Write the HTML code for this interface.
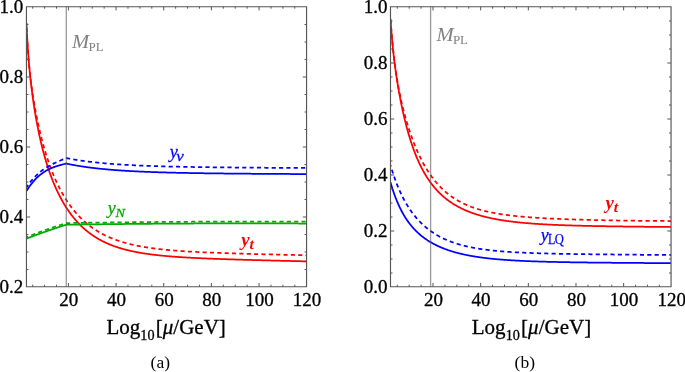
<!DOCTYPE html>
<html><head><meta charset="utf-8"><style>
html,body{margin:0;padding:0;background:#fff;}
body{width:685px;height:372px;overflow:hidden;}
svg{display:block;will-change:transform;}
text{font-family:"Liberation Serif",serif;}
.t{font-size:19px;fill:#000;stroke:#000;stroke-width:0.3px;}
.xl{font-size:21px;fill:#000;stroke:#000;stroke-width:0.3px;}
.cap{font-size:17.5px;fill:#000;}
.mpl{font-size:19px;fill:#808080;}
.lab{font-size:20px;}
</style></head><body>
<svg width="685" height="372" viewBox="0 0 685 372">
<defs>
<clipPath id="cA"><rect x="26.45" y="6.60" width="280.10" height="279.80"/></clipPath>
<clipPath id="cB"><rect x="390.50" y="6.60" width="280.55" height="279.80"/></clipPath>
</defs>
<rect width="685" height="372" fill="#fff"/>
<g fill="none" stroke-width="1.75" clip-path="url(#cA)">
<path d="M26.45 23.17 L26.85 31.58 L27.25 38.99 L27.65 45.60 L28.05 51.56 L28.45 56.97 L28.85 61.94 L29.25 66.54 L29.65 70.82 L30.05 74.84 L30.45 78.63 L30.85 82.23 L31.25 85.66 L31.65 88.94 L32.05 92.08 L32.45 95.11 L32.85 98.02 L33.25 100.84 L33.65 103.56 L34.05 106.20 L34.45 108.76 L34.85 111.25 L35.25 113.67 L35.65 116.02 L36.05 118.31 L36.45 120.55 L36.85 122.72 L37.25 124.85 L37.65 126.92 L38.05 128.94 L38.45 130.91 L38.85 132.84 L39.25 134.73 L39.65 136.58 L40.05 138.38 L40.45 140.15 L40.85 141.87 L41.25 143.57 L41.65 145.22 L42.05 146.85 L42.45 148.44 L42.85 149.99 L43.25 151.52 L43.65 153.02 L44.05 154.49 L44.45 155.93 L44.85 157.35 L45.25 158.74 L45.65 160.10 L46.05 161.44 L46.45 162.75 L46.85 164.04 L47.25 165.31 L47.65 166.56 L48.05 167.78 L48.45 168.99 L48.85 170.17 L49.25 171.33 L49.65 172.48 L50.05 173.60 L50.45 174.71 L50.85 175.80 L51.25 176.87 L51.65 177.93 L52.05 178.97 L52.45 179.99 L52.85 180.99 L53.25 181.98 L53.65 182.96 L54.05 183.92 L54.45 184.87 L54.85 185.80 L55.25 186.72 L55.65 187.62 L56.05 188.52 L56.45 189.39 L56.85 190.26 L57.25 191.11 L57.65 191.96 L58.05 192.78 L58.45 193.60 L58.85 194.41 L59.25 195.20 L59.65 195.99 L60.05 196.76 L60.45 197.52 L60.85 198.27 L61.25 199.01 L61.65 199.75 L62.05 200.47 L62.45 201.18 L62.85 201.88 L63.25 202.57 L63.65 203.26 L64.05 203.93 L64.45 204.59 L64.85 205.25 L65.25 205.90 L65.65 206.54 L66.05 207.17 L66.45 207.79 L66.85 208.40 L67.25 209.01 L67.65 209.61 L68.05 210.20 L68.45 210.78 L68.85 211.36 L69.25 211.93 L69.65 212.49 L70.05 213.04 L70.45 213.59 L70.85 214.13 L71.25 214.66 L71.65 215.19 L72.05 215.70 L72.45 216.22 L72.85 216.72 L73.25 217.22 L73.65 217.72 L74.05 218.20 L74.45 218.69 L74.85 219.16 L75.25 219.63 L75.65 220.09 L76.05 220.55 L76.45 221.00 L76.85 221.45 L77.25 221.89 L77.65 222.32 L78.05 222.75 L78.45 223.18 L78.85 223.60 L79.25 224.01 L79.65 224.42 L80.05 224.82 L80.45 225.22 L80.85 225.62 L81.25 226.01 L81.65 226.39 L82.05 226.77 L82.45 227.15 L82.85 227.52 L83.25 227.88 L83.65 228.24 L84.05 228.60 L84.45 228.95 L84.85 229.30 L85.25 229.65 L85.65 229.99 L86.05 230.32 L86.45 230.65 L86.85 230.98 L87.25 231.30 L87.65 231.62 L88.05 231.94 L88.45 232.25 L88.85 232.56 L89.25 232.87 L89.65 233.17 L90.05 233.46 L90.45 233.76 L90.85 234.05 L91.25 234.33 L91.65 234.62 L92.05 234.90 L92.45 235.17 L92.85 235.45 L93.25 235.72 L93.65 235.98 L94.05 236.25 L94.45 236.51 L94.85 236.76 L95.25 237.02 L95.65 237.27 L96.05 237.52 L96.45 237.76 L96.85 238.00 L97.25 238.24 L97.65 238.48 L98.05 238.71 L98.45 238.94 L98.85 239.17 L99.25 239.40 L99.65 239.62 L100.05 239.84 L100.45 240.06 L100.85 240.27 L101.25 240.48 L101.65 240.69 L102.05 240.90 L102.45 241.10 L102.85 241.31 L103.25 241.51 L103.65 241.70 L104.05 241.90 L104.45 242.09 L104.85 242.28 L105.25 242.47 L105.65 242.66 L106.05 242.84 L106.45 243.02 L106.85 243.20 L107.25 243.38 L107.65 243.56 L108.05 243.73 L108.45 243.90 L108.85 244.07 L109.25 244.24 L109.65 244.40 L110.05 244.57 L110.45 244.73 L110.85 244.89 L111.25 245.04 L111.65 245.20 L112.05 245.35 L112.45 245.51 L112.85 245.66 L113.25 245.81 L113.65 245.95 L114.05 246.10 L114.45 246.24 L114.85 246.38 L115.25 246.53 L115.65 246.66 L116.05 246.80 L116.45 246.94 L116.85 247.07 L117.25 247.20 L117.65 247.33 L118.05 247.46 L118.45 247.59 L118.85 247.72 L119.25 247.84 L119.65 247.97 L120.05 248.09 L120.45 248.21 L120.85 248.33 L121.25 248.45 L121.65 248.56 L122.05 248.68 L122.45 248.79 L122.85 248.91 L123.25 249.02 L123.65 249.13 L124.05 249.24 L124.45 249.35 L124.85 249.45 L125.25 249.56 L125.65 249.66 L126.05 249.76 L126.45 249.87 L126.85 249.97 L127.25 250.07 L127.65 250.16 L128.05 250.26 L128.45 250.36 L128.85 250.45 L129.25 250.55 L129.65 250.64 L130.05 250.73 L130.45 250.82 L130.85 250.91 L131.25 251.00 L131.65 251.09 L132.05 251.18 L132.45 251.26 L132.85 251.35 L133.25 251.43 L133.65 251.52 L134.05 251.60 L134.45 251.68 L134.85 251.76 L135.25 251.84 L135.65 251.92 L136.05 252.00 L136.45 252.07 L136.85 252.15 L137.25 252.22 L137.65 252.30 L138.05 252.37 L138.45 252.45 L138.85 252.52 L139.25 252.59 L139.65 252.66 L140.05 252.73 L140.45 252.80 L140.85 252.87 L141.25 252.94 L141.65 253.00 L142.05 253.07 L142.45 253.13 L142.85 253.20 L143.25 253.26 L143.65 253.33 L144.05 253.39 L144.45 253.45 L144.85 253.51 L145.25 253.57 L145.65 253.63 L146.05 253.69 L146.45 253.75 L146.85 253.81 L147.25 253.87 L147.65 253.92 L148.05 253.98 L148.45 254.04 L148.85 254.09 L149.25 254.15 L149.65 254.20 L150.05 254.26 L150.45 254.31 L150.85 254.36 L151.25 254.41 L151.65 254.46 L152.05 254.52 L152.45 254.57 L152.85 254.62 L153.25 254.66 L153.65 254.71 L154.05 254.76 L154.45 254.81 L154.85 254.86 L155.25 254.90 L155.65 254.95 L156.05 255.00 L156.45 255.04 L156.85 255.09 L157.25 255.13 L157.65 255.18 L158.05 255.22 L158.45 255.26 L158.85 255.31 L159.25 255.35 L159.65 255.39 L160.05 255.43 L160.45 255.48 L160.85 255.52 L161.25 255.56 L161.65 255.60 L162.05 255.64 L162.45 255.68 L162.85 255.72 L163.25 255.75 L163.65 255.79 L164.05 255.83 L164.45 255.87 L164.85 255.91 L165.25 255.94 L165.65 255.98 L166.05 256.01 L166.45 256.05 L166.85 256.09 L167.25 256.12 L167.65 256.16 L168.05 256.19 L168.45 256.23 L168.85 256.26 L169.25 256.29 L169.65 256.33 L170.05 256.36 L170.45 256.39 L170.85 256.42 L171.25 256.46 L171.65 256.49 L172.05 256.52 L172.45 256.55 L172.85 256.58 L173.25 256.61 L173.65 256.64 L174.05 256.67 L174.45 256.70 L174.85 256.73 L175.25 256.76 L175.65 256.79 L176.05 256.82 L176.45 256.85 L176.85 256.88 L177.25 256.91 L177.65 256.94 L178.05 256.96 L178.45 256.99 L178.85 257.02 L179.25 257.05 L179.65 257.07 L180.05 257.10 L180.45 257.13 L180.85 257.15 L181.25 257.18 L181.65 257.20 L182.05 257.23 L182.45 257.25 L182.85 257.28 L183.25 257.30 L183.65 257.33 L184.05 257.35 L184.45 257.38 L184.85 257.40 L185.25 257.43 L185.65 257.45 L186.05 257.47 L186.45 257.50 L186.85 257.52 L187.25 257.54 L187.65 257.57 L188.05 257.59 L188.45 257.61 L188.85 257.64 L189.25 257.66 L189.65 257.68 L190.05 257.70 L190.45 257.72 L190.85 257.75 L191.25 257.77 L191.65 257.79 L192.05 257.81 L192.45 257.83 L192.85 257.85 L193.25 257.87 L193.65 257.89 L194.05 257.91 L194.45 257.93 L194.85 257.95 L195.25 257.97 L195.65 257.99 L196.05 258.01 L196.45 258.03 L196.85 258.05 L197.25 258.07 L197.65 258.09 L198.05 258.11 L198.45 258.13 L198.85 258.15 L199.25 258.17 L199.65 258.19 L200.05 258.21 L200.45 258.22 L200.85 258.24 L201.25 258.26 L201.65 258.28 L202.05 258.30 L202.45 258.31 L202.85 258.33 L203.25 258.35 L203.65 258.37 L204.05 258.39 L204.45 258.40 L204.85 258.42 L205.25 258.44 L205.65 258.45 L206.05 258.47 L206.45 258.49 L206.85 258.51 L207.25 258.52 L207.65 258.54 L208.05 258.56 L208.45 258.57 L208.85 258.59 L209.25 258.60 L209.65 258.62 L210.05 258.64 L210.45 258.65 L210.85 258.67 L211.25 258.68 L211.65 258.70 L212.05 258.72 L212.45 258.73 L212.85 258.75 L213.25 258.76 L213.65 258.78 L214.05 258.79 L214.45 258.81 L214.85 258.82 L215.25 258.84 L215.65 258.85 L216.05 258.87 L216.45 258.88 L216.85 258.90 L217.25 258.91 L217.65 258.93 L218.05 258.94 L218.45 258.96 L218.85 258.97 L219.25 258.98 L219.65 259.00 L220.05 259.01 L220.45 259.03 L220.85 259.04 L221.25 259.06 L221.65 259.07 L222.05 259.08 L222.45 259.10 L222.85 259.11 L223.25 259.13 L223.65 259.14 L224.05 259.15 L224.45 259.17 L224.85 259.18 L225.25 259.19 L225.65 259.21 L226.05 259.22 L226.45 259.23 L226.85 259.25 L227.25 259.26 L227.65 259.27 L228.05 259.29 L228.45 259.30 L228.85 259.31 L229.25 259.33 L229.65 259.34 L230.05 259.35 L230.45 259.36 L230.85 259.38 L231.25 259.39 L231.65 259.40 L232.05 259.42 L232.45 259.43 L232.85 259.44 L233.25 259.45 L233.65 259.47 L234.05 259.48 L234.45 259.49 L234.85 259.50 L235.25 259.52 L235.65 259.53 L236.05 259.54 L236.45 259.55 L236.85 259.56 L237.25 259.58 L237.65 259.59 L238.05 259.60 L238.45 259.61 L238.85 259.62 L239.25 259.64 L239.65 259.65 L240.05 259.66 L240.45 259.67 L240.85 259.68 L241.25 259.70 L241.65 259.71 L242.05 259.72 L242.45 259.73 L242.85 259.74 L243.25 259.75 L243.65 259.77 L244.05 259.78 L244.45 259.79 L244.85 259.80 L245.25 259.81 L245.65 259.82 L246.05 259.84 L246.45 259.85 L246.85 259.86 L247.25 259.87 L247.65 259.88 L248.05 259.89 L248.45 259.90 L248.85 259.91 L249.25 259.93 L249.65 259.94 L250.05 259.95 L250.45 259.96 L250.85 259.97 L251.25 259.98 L251.65 259.99 L252.05 260.00 L252.45 260.02 L252.85 260.03 L253.25 260.04 L253.65 260.05 L254.05 260.06 L254.45 260.07 L254.85 260.08 L255.25 260.09 L255.65 260.10 L256.05 260.11 L256.45 260.12 L256.85 260.14 L257.25 260.15 L257.65 260.16 L258.05 260.17 L258.45 260.18 L258.85 260.19 L259.25 260.20 L259.65 260.21 L260.05 260.22 L260.45 260.23 L260.85 260.24 L261.25 260.25 L261.65 260.26 L262.05 260.27 L262.45 260.28 L262.85 260.30 L263.25 260.31 L263.65 260.32 L264.05 260.33 L264.45 260.34 L264.85 260.35 L265.25 260.36 L265.65 260.37 L266.05 260.38 L266.45 260.39 L266.85 260.40 L267.25 260.41 L267.65 260.42 L268.05 260.43 L268.45 260.44 L268.85 260.45 L269.25 260.46 L269.65 260.47 L270.05 260.48 L270.45 260.49 L270.85 260.50 L271.25 260.51 L271.65 260.52 L272.05 260.53 L272.45 260.54 L272.85 260.55 L273.25 260.56 L273.65 260.57 L274.05 260.58 L274.45 260.59 L274.85 260.60 L275.25 260.61 L275.65 260.63 L276.05 260.64 L276.45 260.65 L276.85 260.66 L277.25 260.67 L277.65 260.68 L278.05 260.69 L278.45 260.70 L278.85 260.71 L279.25 260.72 L279.65 260.73 L280.05 260.74 L280.45 260.75 L280.85 260.76 L281.25 260.77 L281.65 260.78 L282.05 260.79 L282.45 260.80 L282.85 260.81 L283.25 260.82 L283.65 260.83 L284.05 260.83 L284.45 260.84 L284.85 260.85 L285.25 260.86 L285.65 260.87 L286.05 260.88 L286.45 260.89 L286.85 260.90 L287.25 260.91 L287.65 260.92 L288.05 260.93 L288.45 260.94 L288.85 260.95 L289.25 260.96 L289.65 260.97 L290.05 260.98 L290.45 260.99 L290.85 261.00 L291.25 261.01 L291.65 261.02 L292.05 261.03 L292.45 261.04 L292.85 261.05 L293.25 261.06 L293.65 261.07 L294.05 261.08 L294.45 261.09 L294.85 261.10 L295.25 261.11 L295.65 261.12 L296.05 261.13 L296.45 261.14 L296.85 261.15 L297.25 261.16 L297.65 261.17 L298.05 261.18 L298.45 261.19 L298.85 261.20 L299.25 261.21 L299.65 261.22 L300.05 261.23 L300.45 261.23 L300.85 261.24 L301.25 261.25 L301.65 261.26 L302.05 261.27 L302.45 261.28 L302.85 261.29 L303.25 261.30 L303.65 261.31 L304.05 261.32 L304.45 261.33 L304.85 261.34 L305.25 261.35 L305.65 261.36 L306.05 261.37 L306.45 261.38 L306.55 261.38" stroke="#ff0000"/>
<path d="M26.45 22.92 L26.85 31.89 L27.25 39.62 L27.65 46.36 L28.05 52.29 L28.45 57.58 L28.85 62.36 L29.25 66.70 L29.65 70.70 L30.05 74.41 L30.45 77.88 L30.85 81.15 L31.25 84.25 L31.65 87.21 L32.05 90.03 L32.45 92.75 L32.85 95.37 L33.25 97.90 L33.65 100.35 L34.05 102.74 L34.45 105.05 L34.85 107.31 L35.25 109.50 L35.65 111.65 L36.05 113.74 L36.45 115.79 L36.85 117.79 L37.25 119.75 L37.65 121.66 L38.05 123.54 L38.45 125.38 L38.85 127.18 L39.25 128.94 L39.65 130.67 L40.05 132.37 L40.45 134.03 L40.85 135.66 L41.25 137.26 L41.65 138.84 L42.05 140.38 L42.45 141.90 L42.85 143.39 L43.25 144.85 L43.65 146.28 L44.05 147.69 L44.45 149.08 L44.85 150.45 L45.25 151.79 L45.65 153.10 L46.05 154.40 L46.45 155.67 L46.85 156.93 L47.25 158.16 L47.65 159.37 L48.05 160.57 L48.45 161.74 L48.85 162.90 L49.25 164.03 L49.65 165.15 L50.05 166.26 L50.45 167.34 L50.85 168.41 L51.25 169.46 L51.65 170.50 L52.05 171.52 L52.45 172.53 L52.85 173.52 L53.25 174.50 L53.65 175.46 L54.05 176.41 L54.45 177.34 L54.85 178.27 L55.25 179.18 L55.65 180.07 L56.05 180.95 L56.45 181.82 L56.85 182.68 L57.25 183.53 L57.65 184.36 L58.05 185.19 L58.45 186.00 L58.85 186.80 L59.25 187.59 L59.65 188.37 L60.05 189.14 L60.45 189.90 L60.85 190.65 L61.25 191.39 L61.65 192.11 L62.05 192.83 L62.45 193.54 L62.85 194.24 L63.25 194.93 L63.65 195.62 L64.05 196.29 L64.45 196.95 L64.85 197.61 L65.25 198.26 L65.65 198.90 L66.05 199.53 L66.45 200.15 L66.85 200.77 L67.25 201.37 L67.65 201.97 L68.05 202.57 L68.45 203.15 L68.85 203.73 L69.25 204.30 L69.65 204.86 L70.05 205.42 L70.45 205.97 L70.85 206.51 L71.25 207.04 L71.65 207.57 L72.05 208.10 L72.45 208.61 L72.85 209.12 L73.25 209.63 L73.65 210.12 L74.05 210.61 L74.45 211.10 L74.85 211.58 L75.25 212.05 L75.65 212.52 L76.05 212.98 L76.45 213.44 L76.85 213.89 L77.25 214.34 L77.65 214.78 L78.05 215.21 L78.45 215.64 L78.85 216.06 L79.25 216.48 L79.65 216.90 L80.05 217.31 L80.45 217.71 L80.85 218.11 L81.25 218.51 L81.65 218.90 L82.05 219.28 L82.45 219.66 L82.85 220.04 L83.25 220.41 L83.65 220.78 L84.05 221.14 L84.45 221.50 L84.85 221.86 L85.25 222.21 L85.65 222.56 L86.05 222.90 L86.45 223.24 L86.85 223.57 L87.25 223.90 L87.65 224.23 L88.05 224.55 L88.45 224.87 L88.85 225.19 L89.25 225.50 L89.65 225.81 L90.05 226.11 L90.45 226.41 L90.85 226.71 L91.25 227.00 L91.65 227.29 L92.05 227.58 L92.45 227.86 L92.85 228.14 L93.25 228.42 L93.65 228.70 L94.05 228.97 L94.45 229.23 L94.85 229.50 L95.25 229.76 L95.65 230.02 L96.05 230.27 L96.45 230.53 L96.85 230.78 L97.25 231.02 L97.65 231.27 L98.05 231.51 L98.45 231.75 L98.85 231.98 L99.25 232.22 L99.65 232.45 L100.05 232.67 L100.45 232.90 L100.85 233.12 L101.25 233.34 L101.65 233.56 L102.05 233.77 L102.45 233.99 L102.85 234.20 L103.25 234.40 L103.65 234.61 L104.05 234.81 L104.45 235.01 L104.85 235.21 L105.25 235.41 L105.65 235.60 L106.05 235.79 L106.45 235.98 L106.85 236.17 L107.25 236.36 L107.65 236.54 L108.05 236.72 L108.45 236.90 L108.85 237.08 L109.25 237.25 L109.65 237.42 L110.05 237.59 L110.45 237.76 L110.85 237.93 L111.25 238.10 L111.65 238.26 L112.05 238.42 L112.45 238.58 L112.85 238.74 L113.25 238.90 L113.65 239.05 L114.05 239.20 L114.45 239.35 L114.85 239.50 L115.25 239.65 L115.65 239.80 L116.05 239.94 L116.45 240.09 L116.85 240.23 L117.25 240.37 L117.65 240.50 L118.05 240.64 L118.45 240.78 L118.85 240.91 L119.25 241.04 L119.65 241.17 L120.05 241.30 L120.45 241.43 L120.85 241.56 L121.25 241.68 L121.65 241.80 L122.05 241.93 L122.45 242.05 L122.85 242.17 L123.25 242.28 L123.65 242.40 L124.05 242.52 L124.45 242.63 L124.85 242.74 L125.25 242.86 L125.65 242.97 L126.05 243.08 L126.45 243.19 L126.85 243.29 L127.25 243.40 L127.65 243.50 L128.05 243.61 L128.45 243.71 L128.85 243.81 L129.25 243.91 L129.65 244.01 L130.05 244.11 L130.45 244.20 L130.85 244.30 L131.25 244.40 L131.65 244.49 L132.05 244.58 L132.45 244.67 L132.85 244.77 L133.25 244.86 L133.65 244.94 L134.05 245.03 L134.45 245.12 L134.85 245.21 L135.25 245.29 L135.65 245.38 L136.05 245.46 L136.45 245.54 L136.85 245.62 L137.25 245.70 L137.65 245.78 L138.05 245.86 L138.45 245.94 L138.85 246.02 L139.25 246.10 L139.65 246.17 L140.05 246.25 L140.45 246.32 L140.85 246.39 L141.25 246.47 L141.65 246.54 L142.05 246.61 L142.45 246.68 L142.85 246.75 L143.25 246.82 L143.65 246.89 L144.05 246.95 L144.45 247.02 L144.85 247.09 L145.25 247.15 L145.65 247.22 L146.05 247.28 L146.45 247.35 L146.85 247.41 L147.25 247.47 L147.65 247.53 L148.05 247.59 L148.45 247.65 L148.85 247.71 L149.25 247.77 L149.65 247.83 L150.05 247.89 L150.45 247.95 L150.85 248.00 L151.25 248.06 L151.65 248.11 L152.05 248.17 L152.45 248.22 L152.85 248.28 L153.25 248.33 L153.65 248.38 L154.05 248.44 L154.45 248.49 L154.85 248.54 L155.25 248.59 L155.65 248.64 L156.05 248.69 L156.45 248.74 L156.85 248.79 L157.25 248.84 L157.65 248.88 L158.05 248.93 L158.45 248.98 L158.85 249.03 L159.25 249.07 L159.65 249.12 L160.05 249.16 L160.45 249.21 L160.85 249.25 L161.25 249.30 L161.65 249.34 L162.05 249.38 L162.45 249.42 L162.85 249.47 L163.25 249.51 L163.65 249.55 L164.05 249.59 L164.45 249.63 L164.85 249.67 L165.25 249.71 L165.65 249.75 L166.05 249.79 L166.45 249.83 L166.85 249.87 L167.25 249.91 L167.65 249.94 L168.05 249.98 L168.45 250.02 L168.85 250.05 L169.25 250.09 L169.65 250.13 L170.05 250.16 L170.45 250.20 L170.85 250.23 L171.25 250.27 L171.65 250.30 L172.05 250.34 L172.45 250.37 L172.85 250.40 L173.25 250.44 L173.65 250.47 L174.05 250.50 L174.45 250.53 L174.85 250.57 L175.25 250.60 L175.65 250.63 L176.05 250.66 L176.45 250.69 L176.85 250.72 L177.25 250.75 L177.65 250.78 L178.05 250.81 L178.45 250.84 L178.85 250.87 L179.25 250.90 L179.65 250.93 L180.05 250.96 L180.45 250.99 L180.85 251.02 L181.25 251.04 L181.65 251.07 L182.05 251.10 L182.45 251.13 L182.85 251.15 L183.25 251.18 L183.65 251.21 L184.05 251.23 L184.45 251.26 L184.85 251.29 L185.25 251.31 L185.65 251.34 L186.05 251.36 L186.45 251.39 L186.85 251.41 L187.25 251.44 L187.65 251.46 L188.05 251.49 L188.45 251.51 L188.85 251.53 L189.25 251.56 L189.65 251.58 L190.05 251.61 L190.45 251.63 L190.85 251.65 L191.25 251.67 L191.65 251.70 L192.05 251.72 L192.45 251.74 L192.85 251.76 L193.25 251.79 L193.65 251.81 L194.05 251.83 L194.45 251.85 L194.85 251.87 L195.25 251.89 L195.65 251.92 L196.05 251.94 L196.45 251.96 L196.85 251.98 L197.25 252.00 L197.65 252.02 L198.05 252.04 L198.45 252.06 L198.85 252.08 L199.25 252.10 L199.65 252.12 L200.05 252.14 L200.45 252.16 L200.85 252.18 L201.25 252.20 L201.65 252.22 L202.05 252.23 L202.45 252.25 L202.85 252.27 L203.25 252.29 L203.65 252.31 L204.05 252.33 L204.45 252.35 L204.85 252.36 L205.25 252.38 L205.65 252.40 L206.05 252.42 L206.45 252.44 L206.85 252.45 L207.25 252.47 L207.65 252.49 L208.05 252.50 L208.45 252.52 L208.85 252.54 L209.25 252.56 L209.65 252.57 L210.05 252.59 L210.45 252.61 L210.85 252.62 L211.25 252.64 L211.65 252.66 L212.05 252.67 L212.45 252.69 L212.85 252.70 L213.25 252.72 L213.65 252.74 L214.05 252.75 L214.45 252.77 L214.85 252.78 L215.25 252.80 L215.65 252.81 L216.05 252.83 L216.45 252.84 L216.85 252.86 L217.25 252.87 L217.65 252.89 L218.05 252.90 L218.45 252.92 L218.85 252.93 L219.25 252.95 L219.65 252.96 L220.05 252.98 L220.45 252.99 L220.85 253.01 L221.25 253.02 L221.65 253.04 L222.05 253.05 L222.45 253.06 L222.85 253.08 L223.25 253.09 L223.65 253.11 L224.05 253.12 L224.45 253.13 L224.85 253.15 L225.25 253.16 L225.65 253.17 L226.05 253.19 L226.45 253.20 L226.85 253.21 L227.25 253.23 L227.65 253.24 L228.05 253.25 L228.45 253.27 L228.85 253.28 L229.25 253.29 L229.65 253.31 L230.05 253.32 L230.45 253.33 L230.85 253.35 L231.25 253.36 L231.65 253.37 L232.05 253.38 L232.45 253.40 L232.85 253.41 L233.25 253.42 L233.65 253.43 L234.05 253.45 L234.45 253.46 L234.85 253.47 L235.25 253.48 L235.65 253.50 L236.05 253.51 L236.45 253.52 L236.85 253.53 L237.25 253.54 L237.65 253.56 L238.05 253.57 L238.45 253.58 L238.85 253.59 L239.25 253.60 L239.65 253.62 L240.05 253.63 L240.45 253.64 L240.85 253.65 L241.25 253.66 L241.65 253.68 L242.05 253.69 L242.45 253.70 L242.85 253.71 L243.25 253.72 L243.65 253.73 L244.05 253.74 L244.45 253.76 L244.85 253.77 L245.25 253.78 L245.65 253.79 L246.05 253.80 L246.45 253.81 L246.85 253.82 L247.25 253.83 L247.65 253.85 L248.05 253.86 L248.45 253.87 L248.85 253.88 L249.25 253.89 L249.65 253.90 L250.05 253.91 L250.45 253.92 L250.85 253.93 L251.25 253.94 L251.65 253.95 L252.05 253.97 L252.45 253.98 L252.85 253.99 L253.25 254.00 L253.65 254.01 L254.05 254.02 L254.45 254.03 L254.85 254.04 L255.25 254.05 L255.65 254.06 L256.05 254.07 L256.45 254.08 L256.85 254.09 L257.25 254.10 L257.65 254.11 L258.05 254.12 L258.45 254.13 L258.85 254.14 L259.25 254.15 L259.65 254.17 L260.05 254.18 L260.45 254.19 L260.85 254.20 L261.25 254.21 L261.65 254.22 L262.05 254.23 L262.45 254.24 L262.85 254.25 L263.25 254.26 L263.65 254.27 L264.05 254.28 L264.45 254.29 L264.85 254.30 L265.25 254.31 L265.65 254.32 L266.05 254.33 L266.45 254.34 L266.85 254.35 L267.25 254.36 L267.65 254.37 L268.05 254.38 L268.45 254.39 L268.85 254.40 L269.25 254.41 L269.65 254.42 L270.05 254.43 L270.45 254.44 L270.85 254.44 L271.25 254.45 L271.65 254.46 L272.05 254.47 L272.45 254.48 L272.85 254.49 L273.25 254.50 L273.65 254.51 L274.05 254.52 L274.45 254.53 L274.85 254.54 L275.25 254.55 L275.65 254.56 L276.05 254.57 L276.45 254.58 L276.85 254.59 L277.25 254.60 L277.65 254.61 L278.05 254.62 L278.45 254.63 L278.85 254.64 L279.25 254.65 L279.65 254.66 L280.05 254.66 L280.45 254.67 L280.85 254.68 L281.25 254.69 L281.65 254.70 L282.05 254.71 L282.45 254.72 L282.85 254.73 L283.25 254.74 L283.65 254.75 L284.05 254.76 L284.45 254.77 L284.85 254.78 L285.25 254.79 L285.65 254.80 L286.05 254.80 L286.45 254.81 L286.85 254.82 L287.25 254.83 L287.65 254.84 L288.05 254.85 L288.45 254.86 L288.85 254.87 L289.25 254.88 L289.65 254.89 L290.05 254.90 L290.45 254.91 L290.85 254.92 L291.25 254.92 L291.65 254.93 L292.05 254.94 L292.45 254.95 L292.85 254.96 L293.25 254.97 L293.65 254.98 L294.05 254.99 L294.45 255.00 L294.85 255.01 L295.25 255.02 L295.65 255.02 L296.05 255.03 L296.45 255.04 L296.85 255.05 L297.25 255.06 L297.65 255.07 L298.05 255.08 L298.45 255.09 L298.85 255.10 L299.25 255.11 L299.65 255.11 L300.05 255.12 L300.45 255.13 L300.85 255.14 L301.25 255.15 L301.65 255.16 L302.05 255.17 L302.45 255.18 L302.85 255.19 L303.25 255.19 L303.65 255.20 L304.05 255.21 L304.45 255.22 L304.85 255.23 L305.25 255.24 L305.65 255.25 L306.05 255.26 L306.45 255.27 L306.55 255.27" stroke="#ff0000" stroke-dasharray="4.14 3.22" stroke-dashoffset="2.47"/>
<path d="M26.45 191.09 L26.95 190.29 L27.45 189.51 L27.95 188.75 L28.45 188.00 L28.95 187.27 L29.45 186.56 L29.95 185.86 L30.45 185.18 L30.95 184.52 L31.45 183.87 L31.95 183.24 L32.45 182.62 L32.95 182.02 L33.45 181.43 L33.95 180.86 L34.45 180.30 L34.95 179.75 L35.45 179.22 L35.95 178.70 L36.45 178.20 L36.95 177.71 L37.45 177.23 L37.95 176.76 L38.45 176.31 L38.95 175.87 L39.45 175.44 L39.95 175.02 L40.45 174.62 L40.95 174.22 L41.45 173.84 L41.95 173.47 L42.45 173.10 L42.95 172.75 L43.45 172.41 L43.95 172.08 L44.45 171.75 L44.95 171.44 L45.45 171.14 L45.95 170.84 L46.45 170.55 L46.95 170.27 L47.45 170.00 L47.95 169.74 L48.45 169.49 L48.95 169.24 L49.45 169.00 L49.95 168.77 L50.45 168.54 L50.95 168.32 L51.45 168.11 L51.95 167.90 L52.45 167.70 L52.95 167.50 L53.45 167.31 L53.95 167.12 L54.45 166.94 L54.95 166.77 L55.45 166.60 L55.95 166.43 L56.45 166.26 L56.95 166.10 L57.45 165.95 L57.95 165.79 L58.45 165.64 L58.95 165.49 L59.45 165.35 L59.95 165.21 L60.45 165.07 L60.95 164.93 L61.45 164.79 L61.95 164.65 L62.45 164.52 L62.95 164.38 L63.45 164.25 L63.95 164.12 L64.45 163.98 L64.95 163.85 L65.45 163.72 L65.95 163.58 L66.30 163.49 L66.80 163.70 L67.30 163.80 L67.80 163.91 L68.30 164.01 L68.80 164.11 L69.30 164.21 L69.80 164.31 L70.30 164.41 L70.80 164.51 L71.30 164.60 L71.80 164.70 L72.30 164.79 L72.80 164.89 L73.30 164.98 L73.80 165.07 L74.30 165.16 L74.80 165.25 L75.30 165.34 L75.80 165.42 L76.30 165.51 L76.80 165.60 L77.30 165.68 L77.80 165.77 L78.30 165.85 L78.80 165.93 L79.30 166.01 L79.80 166.09 L80.30 166.17 L80.80 166.25 L81.30 166.33 L81.80 166.41 L82.30 166.48 L82.80 166.56 L83.30 166.63 L83.80 166.71 L84.30 166.78 L84.80 166.85 L85.30 166.92 L85.80 166.99 L86.30 167.06 L86.80 167.13 L87.30 167.20 L87.80 167.27 L88.30 167.34 L88.80 167.40 L89.30 167.47 L89.80 167.53 L90.30 167.60 L90.80 167.66 L91.30 167.72 L91.80 167.79 L92.30 167.85 L92.80 167.91 L93.30 167.97 L93.80 168.03 L94.30 168.09 L94.80 168.15 L95.30 168.20 L95.80 168.26 L96.30 168.32 L96.80 168.37 L97.30 168.43 L97.80 168.48 L98.30 168.54 L98.80 168.59 L99.30 168.64 L99.80 168.70 L100.30 168.75 L100.80 168.80 L101.30 168.85 L101.80 168.90 L102.30 168.95 L102.80 169.00 L103.30 169.05 L103.80 169.10 L104.30 169.15 L104.80 169.19 L105.30 169.24 L105.80 169.29 L106.30 169.33 L106.80 169.38 L107.30 169.42 L107.80 169.47 L108.30 169.51 L108.80 169.56 L109.30 169.60 L109.80 169.64 L110.30 169.68 L110.80 169.73 L111.30 169.77 L111.80 169.81 L112.30 169.85 L112.80 169.89 L113.30 169.93 L113.80 169.97 L114.30 170.01 L114.80 170.05 L115.30 170.08 L115.80 170.12 L116.30 170.16 L116.80 170.20 L117.30 170.23 L117.80 170.27 L118.30 170.30 L118.80 170.34 L119.30 170.37 L119.80 170.41 L120.30 170.44 L120.80 170.48 L121.30 170.51 L121.80 170.54 L122.30 170.58 L122.80 170.61 L123.30 170.64 L123.80 170.67 L124.30 170.71 L124.80 170.74 L125.30 170.77 L125.80 170.80 L126.30 170.83 L126.80 170.86 L127.30 170.89 L127.80 170.92 L128.30 170.95 L128.80 170.98 L129.30 171.01 L129.80 171.03 L130.30 171.06 L130.80 171.09 L131.30 171.12 L131.80 171.14 L132.30 171.17 L132.80 171.20 L133.30 171.22 L133.80 171.25 L134.30 171.28 L134.80 171.30 L135.30 171.33 L135.80 171.35 L136.30 171.38 L136.80 171.40 L137.30 171.43 L137.80 171.45 L138.30 171.47 L138.80 171.50 L139.30 171.52 L139.80 171.54 L140.30 171.57 L140.80 171.59 L141.30 171.61 L141.80 171.63 L142.30 171.66 L142.80 171.68 L143.30 171.70 L143.80 171.72 L144.30 171.74 L144.80 171.76 L145.30 171.78 L145.80 171.80 L146.30 171.82 L146.80 171.84 L147.30 171.86 L147.80 171.88 L148.30 171.90 L148.80 171.92 L149.30 171.94 L149.80 171.96 L150.30 171.98 L150.80 172.00 L151.30 172.02 L151.80 172.03 L152.30 172.05 L152.80 172.07 L153.30 172.09 L153.80 172.11 L154.30 172.12 L154.80 172.14 L155.30 172.16 L155.80 172.17 L156.30 172.19 L156.80 172.21 L157.30 172.22 L157.80 172.24 L158.30 172.26 L158.80 172.27 L159.30 172.29 L159.80 172.30 L160.30 172.32 L160.80 172.34 L161.30 172.35 L161.80 172.37 L162.30 172.38 L162.80 172.40 L163.30 172.41 L163.80 172.42 L164.30 172.44 L164.80 172.45 L165.30 172.47 L165.80 172.48 L166.30 172.49 L166.80 172.51 L167.30 172.52 L167.80 172.54 L168.30 172.55 L168.80 172.56 L169.30 172.58 L169.80 172.59 L170.30 172.60 L170.80 172.61 L171.30 172.63 L171.80 172.64 L172.30 172.65 L172.80 172.66 L173.30 172.68 L173.80 172.69 L174.30 172.70 L174.80 172.71 L175.30 172.72 L175.80 172.73 L176.30 172.75 L176.80 172.76 L177.30 172.77 L177.80 172.78 L178.30 172.79 L178.80 172.80 L179.30 172.81 L179.80 172.82 L180.30 172.84 L180.80 172.85 L181.30 172.86 L181.80 172.87 L182.30 172.88 L182.80 172.89 L183.30 172.90 L183.80 172.91 L184.30 172.92 L184.80 172.93 L185.30 172.94 L185.80 172.95 L186.30 172.96 L186.80 172.97 L187.30 172.98 L187.80 172.99 L188.30 172.99 L188.80 173.00 L189.30 173.01 L189.80 173.02 L190.30 173.03 L190.80 173.04 L191.30 173.05 L191.80 173.06 L192.30 173.07 L192.80 173.07 L193.30 173.08 L193.80 173.09 L194.30 173.10 L194.80 173.11 L195.30 173.12 L195.80 173.13 L196.30 173.13 L196.80 173.14 L197.30 173.15 L197.80 173.16 L198.30 173.17 L198.80 173.17 L199.30 173.18 L199.80 173.19 L200.30 173.20 L200.80 173.20 L201.30 173.21 L201.80 173.22 L202.30 173.23 L202.80 173.23 L203.30 173.24 L203.80 173.25 L204.30 173.26 L204.80 173.26 L205.30 173.27 L205.80 173.28 L206.30 173.28 L206.80 173.29 L207.30 173.30 L207.80 173.30 L208.30 173.31 L208.80 173.32 L209.30 173.32 L209.80 173.33 L210.30 173.34 L210.80 173.34 L211.30 173.35 L211.80 173.36 L212.30 173.36 L212.80 173.37 L213.30 173.38 L213.80 173.38 L214.30 173.39 L214.80 173.39 L215.30 173.40 L215.80 173.41 L216.30 173.41 L216.80 173.42 L217.30 173.42 L217.80 173.43 L218.30 173.44 L218.80 173.44 L219.30 173.45 L219.80 173.45 L220.30 173.46 L220.80 173.46 L221.30 173.47 L221.80 173.47 L222.30 173.48 L222.80 173.49 L223.30 173.49 L223.80 173.50 L224.30 173.50 L224.80 173.51 L225.30 173.51 L225.80 173.52 L226.30 173.52 L226.80 173.53 L227.30 173.53 L227.80 173.54 L228.30 173.54 L228.80 173.55 L229.30 173.55 L229.80 173.56 L230.30 173.56 L230.80 173.57 L231.30 173.57 L231.80 173.58 L232.30 173.58 L232.80 173.59 L233.30 173.59 L233.80 173.60 L234.30 173.60 L234.80 173.61 L235.30 173.61 L235.80 173.62 L236.30 173.62 L236.80 173.62 L237.30 173.63 L237.80 173.63 L238.30 173.64 L238.80 173.64 L239.30 173.65 L239.80 173.65 L240.30 173.66 L240.80 173.66 L241.30 173.66 L241.80 173.67 L242.30 173.67 L242.80 173.68 L243.30 173.68 L243.80 173.69 L244.30 173.69 L244.80 173.69 L245.30 173.70 L245.80 173.70 L246.30 173.71 L246.80 173.71 L247.30 173.71 L247.80 173.72 L248.30 173.72 L248.80 173.73 L249.30 173.73 L249.80 173.73 L250.30 173.74 L250.80 173.74 L251.30 173.75 L251.80 173.75 L252.30 173.75 L252.80 173.76 L253.30 173.76 L253.80 173.76 L254.30 173.77 L254.80 173.77 L255.30 173.78 L255.80 173.78 L256.30 173.78 L256.80 173.79 L257.30 173.79 L257.80 173.79 L258.30 173.80 L258.80 173.80 L259.30 173.80 L259.80 173.81 L260.30 173.81 L260.80 173.81 L261.30 173.82 L261.80 173.82 L262.30 173.83 L262.80 173.83 L263.30 173.83 L263.80 173.84 L264.30 173.84 L264.80 173.84 L265.30 173.85 L265.80 173.85 L266.30 173.85 L266.80 173.86 L267.30 173.86 L267.80 173.86 L268.30 173.87 L268.80 173.87 L269.30 173.87 L269.80 173.88 L270.30 173.88 L270.80 173.88 L271.30 173.88 L271.80 173.89 L272.30 173.89 L272.80 173.89 L273.30 173.90 L273.80 173.90 L274.30 173.90 L274.80 173.91 L275.30 173.91 L275.80 173.91 L276.30 173.92 L276.80 173.92 L277.30 173.92 L277.80 173.93 L278.30 173.93 L278.80 173.93 L279.30 173.93 L279.80 173.94 L280.30 173.94 L280.80 173.94 L281.30 173.95 L281.80 173.95 L282.30 173.95 L282.80 173.96 L283.30 173.96 L283.80 173.96 L284.30 173.96 L284.80 173.97 L285.30 173.97 L285.80 173.97 L286.30 173.98 L286.80 173.98 L287.30 173.98 L287.80 173.98 L288.30 173.99 L288.80 173.99 L289.30 173.99 L289.80 174.00 L290.30 174.00 L290.80 174.00 L291.30 174.00 L291.80 174.01 L292.30 174.01 L292.80 174.01 L293.30 174.01 L293.80 174.02 L294.30 174.02 L294.80 174.02 L295.30 174.03 L295.80 174.03 L296.30 174.03 L296.80 174.03 L297.30 174.04 L297.80 174.04 L298.30 174.04 L298.80 174.04 L299.30 174.05 L299.80 174.05 L300.30 174.05 L300.80 174.05 L301.30 174.06 L301.80 174.06 L302.30 174.06 L302.80 174.07 L303.30 174.07 L303.80 174.07 L304.30 174.07 L304.80 174.08 L305.30 174.08 L305.80 174.08 L306.30 174.08 L306.55 174.08" stroke="#0000ff"/>
<path d="M26.45 187.39 L26.95 186.65 L27.45 185.93 L27.95 185.22 L28.45 184.53 L28.95 183.85 L29.45 183.19 L29.95 182.54 L30.45 181.90 L30.95 181.28 L31.45 180.67 L31.95 180.07 L32.45 179.49 L32.95 178.92 L33.45 178.36 L33.95 177.81 L34.45 177.28 L34.95 176.76 L35.45 176.25 L35.95 175.75 L36.45 175.26 L36.95 174.78 L37.45 174.31 L37.95 173.85 L38.45 173.41 L38.95 172.97 L39.45 172.54 L39.95 172.12 L40.45 171.72 L40.95 171.32 L41.45 170.92 L41.95 170.54 L42.45 170.17 L42.95 169.80 L43.45 169.45 L43.95 169.10 L44.45 168.75 L44.95 168.42 L45.45 168.09 L45.95 167.77 L46.45 167.46 L46.95 167.15 L47.45 166.85 L47.95 166.55 L48.45 166.26 L48.95 165.98 L49.45 165.70 L49.95 165.42 L50.45 165.16 L50.95 164.89 L51.45 164.63 L51.95 164.38 L52.45 164.13 L52.95 163.88 L53.45 163.63 L53.95 163.39 L54.45 163.16 L54.95 162.92 L55.45 162.69 L55.95 162.46 L56.45 162.23 L56.95 162.01 L57.45 161.79 L57.95 161.57 L58.45 161.35 L58.95 161.13 L59.45 160.91 L59.95 160.69 L60.45 160.48 L60.95 160.26 L61.45 160.04 L61.95 159.83 L62.45 159.61 L62.95 159.39 L63.45 159.18 L63.95 158.96 L64.45 158.74 L64.95 158.52 L65.45 158.29 L65.95 158.07 L66.30 157.91 L66.80 158.19 L67.30 158.29 L67.80 158.39 L68.30 158.48 L68.80 158.58 L69.30 158.67 L69.80 158.76 L70.30 158.85 L70.80 158.94 L71.30 159.03 L71.80 159.12 L72.30 159.21 L72.80 159.30 L73.30 159.38 L73.80 159.47 L74.30 159.55 L74.80 159.63 L75.30 159.71 L75.80 159.80 L76.30 159.88 L76.80 159.96 L77.30 160.03 L77.80 160.11 L78.30 160.19 L78.80 160.27 L79.30 160.34 L79.80 160.42 L80.30 160.49 L80.80 160.56 L81.30 160.64 L81.80 160.71 L82.30 160.78 L82.80 160.85 L83.30 160.92 L83.80 160.99 L84.30 161.05 L84.80 161.12 L85.30 161.19 L85.80 161.25 L86.30 161.32 L86.80 161.38 L87.30 161.45 L87.80 161.51 L88.30 161.57 L88.80 161.64 L89.30 161.70 L89.80 161.76 L90.30 161.82 L90.80 161.88 L91.30 161.94 L91.80 161.99 L92.30 162.05 L92.80 162.11 L93.30 162.17 L93.80 162.22 L94.30 162.28 L94.80 162.33 L95.30 162.39 L95.80 162.44 L96.30 162.49 L96.80 162.54 L97.30 162.60 L97.80 162.65 L98.30 162.70 L98.80 162.75 L99.30 162.80 L99.80 162.85 L100.30 162.90 L100.80 162.95 L101.30 162.99 L101.80 163.04 L102.30 163.09 L102.80 163.13 L103.30 163.18 L103.80 163.23 L104.30 163.27 L104.80 163.31 L105.30 163.36 L105.80 163.40 L106.30 163.45 L106.80 163.49 L107.30 163.53 L107.80 163.57 L108.30 163.61 L108.80 163.65 L109.30 163.70 L109.80 163.74 L110.30 163.78 L110.80 163.81 L111.30 163.85 L111.80 163.89 L112.30 163.93 L112.80 163.97 L113.30 164.01 L113.80 164.04 L114.30 164.08 L114.80 164.12 L115.30 164.15 L115.80 164.19 L116.30 164.22 L116.80 164.26 L117.30 164.29 L117.80 164.33 L118.30 164.36 L118.80 164.39 L119.30 164.43 L119.80 164.46 L120.30 164.49 L120.80 164.52 L121.30 164.56 L121.80 164.59 L122.30 164.62 L122.80 164.65 L123.30 164.68 L123.80 164.71 L124.30 164.74 L124.80 164.77 L125.30 164.80 L125.80 164.83 L126.30 164.86 L126.80 164.88 L127.30 164.91 L127.80 164.94 L128.30 164.97 L128.80 165.00 L129.30 165.02 L129.80 165.05 L130.30 165.08 L130.80 165.10 L131.30 165.13 L131.80 165.15 L132.30 165.18 L132.80 165.20 L133.30 165.23 L133.80 165.25 L134.30 165.28 L134.80 165.30 L135.30 165.33 L135.80 165.35 L136.30 165.37 L136.80 165.40 L137.30 165.42 L137.80 165.44 L138.30 165.47 L138.80 165.49 L139.30 165.51 L139.80 165.53 L140.30 165.56 L140.80 165.58 L141.30 165.60 L141.80 165.62 L142.30 165.64 L142.80 165.66 L143.30 165.68 L143.80 165.70 L144.30 165.72 L144.80 165.74 L145.30 165.76 L145.80 165.78 L146.30 165.80 L146.80 165.82 L147.30 165.84 L147.80 165.86 L148.30 165.88 L148.80 165.90 L149.30 165.91 L149.80 165.93 L150.30 165.95 L150.80 165.97 L151.30 165.98 L151.80 166.00 L152.30 166.02 L152.80 166.04 L153.30 166.05 L153.80 166.07 L154.30 166.09 L154.80 166.10 L155.30 166.12 L155.80 166.14 L156.30 166.15 L156.80 166.17 L157.30 166.18 L157.80 166.20 L158.30 166.21 L158.80 166.23 L159.30 166.25 L159.80 166.26 L160.30 166.27 L160.80 166.29 L161.30 166.30 L161.80 166.32 L162.30 166.33 L162.80 166.35 L163.30 166.36 L163.80 166.37 L164.30 166.39 L164.80 166.40 L165.30 166.42 L165.80 166.43 L166.30 166.44 L166.80 166.46 L167.30 166.47 L167.80 166.48 L168.30 166.49 L168.80 166.51 L169.30 166.52 L169.80 166.53 L170.30 166.54 L170.80 166.56 L171.30 166.57 L171.80 166.58 L172.30 166.59 L172.80 166.60 L173.30 166.62 L173.80 166.63 L174.30 166.64 L174.80 166.65 L175.30 166.66 L175.80 166.67 L176.30 166.68 L176.80 166.70 L177.30 166.71 L177.80 166.72 L178.30 166.73 L178.80 166.74 L179.30 166.75 L179.80 166.76 L180.30 166.77 L180.80 166.78 L181.30 166.79 L181.80 166.80 L182.30 166.81 L182.80 166.82 L183.30 166.83 L183.80 166.84 L184.30 166.85 L184.80 166.86 L185.30 166.87 L185.80 166.88 L186.30 166.89 L186.80 166.90 L187.30 166.91 L187.80 166.91 L188.30 166.92 L188.80 166.93 L189.30 166.94 L189.80 166.95 L190.30 166.96 L190.80 166.97 L191.30 166.98 L191.80 166.98 L192.30 166.99 L192.80 167.00 L193.30 167.01 L193.80 167.02 L194.30 167.03 L194.80 167.03 L195.30 167.04 L195.80 167.05 L196.30 167.06 L196.80 167.07 L197.30 167.07 L197.80 167.08 L198.30 167.09 L198.80 167.10 L199.30 167.10 L199.80 167.11 L200.30 167.12 L200.80 167.13 L201.30 167.13 L201.80 167.14 L202.30 167.15 L202.80 167.15 L203.30 167.16 L203.80 167.17 L204.30 167.18 L204.80 167.18 L205.30 167.19 L205.80 167.20 L206.30 167.20 L206.80 167.21 L207.30 167.22 L207.80 167.22 L208.30 167.23 L208.80 167.24 L209.30 167.24 L209.80 167.25 L210.30 167.25 L210.80 167.26 L211.30 167.27 L211.80 167.27 L212.30 167.28 L212.80 167.29 L213.30 167.29 L213.80 167.30 L214.30 167.30 L214.80 167.31 L215.30 167.31 L215.80 167.32 L216.30 167.33 L216.80 167.33 L217.30 167.34 L217.80 167.34 L218.30 167.35 L218.80 167.35 L219.30 167.36 L219.80 167.37 L220.30 167.37 L220.80 167.38 L221.30 167.38 L221.80 167.39 L222.30 167.39 L222.80 167.40 L223.30 167.40 L223.80 167.41 L224.30 167.41 L224.80 167.42 L225.30 167.42 L225.80 167.43 L226.30 167.43 L226.80 167.44 L227.30 167.44 L227.80 167.45 L228.30 167.45 L228.80 167.46 L229.30 167.46 L229.80 167.47 L230.30 167.47 L230.80 167.48 L231.30 167.48 L231.80 167.49 L232.30 167.49 L232.80 167.50 L233.30 167.50 L233.80 167.51 L234.30 167.51 L234.80 167.51 L235.30 167.52 L235.80 167.52 L236.30 167.53 L236.80 167.53 L237.30 167.54 L237.80 167.54 L238.30 167.55 L238.80 167.55 L239.30 167.55 L239.80 167.56 L240.30 167.56 L240.80 167.57 L241.30 167.57 L241.80 167.58 L242.30 167.58 L242.80 167.58 L243.30 167.59 L243.80 167.59 L244.30 167.60 L244.80 167.60 L245.30 167.60 L245.80 167.61 L246.30 167.61 L246.80 167.62 L247.30 167.62 L247.80 167.62 L248.30 167.63 L248.80 167.63 L249.30 167.63 L249.80 167.64 L250.30 167.64 L250.80 167.65 L251.30 167.65 L251.80 167.65 L252.30 167.66 L252.80 167.66 L253.30 167.66 L253.80 167.67 L254.30 167.67 L254.80 167.67 L255.30 167.68 L255.80 167.68 L256.30 167.69 L256.80 167.69 L257.30 167.69 L257.80 167.70 L258.30 167.70 L258.80 167.70 L259.30 167.71 L259.80 167.71 L260.30 167.71 L260.80 167.72 L261.30 167.72 L261.80 167.72 L262.30 167.73 L262.80 167.73 L263.30 167.73 L263.80 167.74 L264.30 167.74 L264.80 167.74 L265.30 167.75 L265.80 167.75 L266.30 167.75 L266.80 167.76 L267.30 167.76 L267.80 167.76 L268.30 167.77 L268.80 167.77 L269.30 167.77 L269.80 167.78 L270.30 167.78 L270.80 167.78 L271.30 167.78 L271.80 167.79 L272.30 167.79 L272.80 167.79 L273.30 167.80 L273.80 167.80 L274.30 167.80 L274.80 167.81 L275.30 167.81 L275.80 167.81 L276.30 167.81 L276.80 167.82 L277.30 167.82 L277.80 167.82 L278.30 167.83 L278.80 167.83 L279.30 167.83 L279.80 167.83 L280.30 167.84 L280.80 167.84 L281.30 167.84 L281.80 167.85 L282.30 167.85 L282.80 167.85 L283.30 167.85 L283.80 167.86 L284.30 167.86 L284.80 167.86 L285.30 167.87 L285.80 167.87 L286.30 167.87 L286.80 167.87 L287.30 167.88 L287.80 167.88 L288.30 167.88 L288.80 167.89 L289.30 167.89 L289.80 167.89 L290.30 167.89 L290.80 167.90 L291.30 167.90 L291.80 167.90 L292.30 167.90 L292.80 167.91 L293.30 167.91 L293.80 167.91 L294.30 167.91 L294.80 167.92 L295.30 167.92 L295.80 167.92 L296.30 167.92 L296.80 167.93 L297.30 167.93 L297.80 167.93 L298.30 167.94 L298.80 167.94 L299.30 167.94 L299.80 167.94 L300.30 167.95 L300.80 167.95 L301.30 167.95 L301.80 167.95 L302.30 167.96 L302.80 167.96 L303.30 167.96 L303.80 167.96 L304.30 167.97 L304.80 167.97 L305.30 167.97 L305.80 167.97 L306.30 167.98 L306.55 167.98" stroke="#0000ff" stroke-dasharray="4.14 3.22" stroke-dashoffset="1.20"/>
<path d="M26.45 238.70 L26.95 238.50 L27.45 238.31 L27.95 238.12 L28.45 237.93 L28.95 237.73 L29.45 237.54 L29.95 237.35 L30.45 237.16 L30.95 236.97 L31.45 236.78 L31.95 236.59 L32.45 236.40 L32.95 236.22 L33.45 236.03 L33.95 235.84 L34.45 235.65 L34.95 235.47 L35.45 235.28 L35.95 235.10 L36.45 234.91 L36.95 234.73 L37.45 234.54 L37.95 234.36 L38.45 234.18 L38.95 234.00 L39.45 233.81 L39.95 233.63 L40.45 233.45 L40.95 233.27 L41.45 233.09 L41.95 232.91 L42.45 232.73 L42.95 232.55 L43.45 232.37 L43.95 232.20 L44.45 232.02 L44.95 231.84 L45.45 231.67 L45.95 231.49 L46.45 231.31 L46.95 231.14 L47.45 230.97 L47.95 230.79 L48.45 230.62 L48.95 230.44 L49.45 230.27 L49.95 230.10 L50.45 229.93 L50.95 229.76 L51.45 229.59 L51.95 229.42 L52.45 229.25 L52.95 229.08 L53.45 228.91 L53.95 228.74 L54.45 228.57 L54.95 228.40 L55.45 228.24 L55.95 228.07 L56.45 227.90 L56.95 227.74 L57.45 227.57 L57.95 227.41 L58.45 227.25 L58.95 227.08 L59.45 226.92 L59.95 226.76 L60.45 226.59 L60.95 226.43 L61.45 226.27 L61.95 226.11 L62.45 225.95 L62.95 225.79 L63.45 225.63 L63.95 225.47 L64.45 225.31 L64.95 225.15 L65.45 225.00 L65.95 224.84 L66.30 224.73 L66.80 224.72 L67.30 224.71 L67.80 224.70 L68.30 224.70 L68.80 224.69 L69.30 224.68 L69.80 224.67 L70.30 224.67 L70.80 224.66 L71.30 224.65 L71.80 224.64 L72.30 224.64 L72.80 224.63 L73.30 224.62 L73.80 224.62 L74.30 224.61 L74.80 224.60 L75.30 224.59 L75.80 224.59 L76.30 224.58 L76.80 224.57 L77.30 224.57 L77.80 224.56 L78.30 224.55 L78.80 224.55 L79.30 224.54 L79.80 224.53 L80.30 224.52 L80.80 224.52 L81.30 224.51 L81.80 224.50 L82.30 224.50 L82.80 224.49 L83.30 224.48 L83.80 224.48 L84.30 224.47 L84.80 224.46 L85.30 224.46 L85.80 224.45 L86.30 224.44 L86.80 224.44 L87.30 224.43 L87.80 224.42 L88.30 224.42 L88.80 224.41 L89.30 224.40 L89.80 224.40 L90.30 224.39 L90.80 224.38 L91.30 224.38 L91.80 224.37 L92.30 224.36 L92.80 224.36 L93.30 224.35 L93.80 224.35 L94.30 224.34 L94.80 224.33 L95.30 224.33 L95.80 224.32 L96.30 224.31 L96.80 224.31 L97.30 224.30 L97.80 224.30 L98.30 224.29 L98.80 224.28 L99.30 224.28 L99.80 224.27 L100.30 224.26 L100.80 224.26 L101.30 224.25 L101.80 224.25 L102.30 224.24 L102.80 224.23 L103.30 224.23 L103.80 224.22 L104.30 224.22 L104.80 224.21 L105.30 224.20 L105.80 224.20 L106.30 224.19 L106.80 224.19 L107.30 224.18 L107.80 224.18 L108.30 224.17 L108.80 224.16 L109.30 224.16 L109.80 224.15 L110.30 224.15 L110.80 224.14 L111.30 224.14 L111.80 224.13 L112.30 224.12 L112.80 224.12 L113.30 224.11 L113.80 224.11 L114.30 224.10 L114.80 224.10 L115.30 224.09 L115.80 224.09 L116.30 224.08 L116.80 224.08 L117.30 224.07 L117.80 224.06 L118.30 224.06 L118.80 224.05 L119.30 224.05 L119.80 224.04 L120.30 224.04 L120.80 224.03 L121.30 224.03 L121.80 224.02 L122.30 224.02 L122.80 224.01 L123.30 224.01 L123.80 224.00 L124.30 224.00 L124.80 223.99 L125.30 223.99 L125.80 223.98 L126.30 223.98 L126.80 223.97 L127.30 223.97 L127.80 223.96 L128.30 223.96 L128.80 223.95 L129.30 223.95 L129.80 223.94 L130.30 223.94 L130.80 223.93 L131.30 223.93 L131.80 223.92 L132.30 223.92 L132.80 223.91 L133.30 223.91 L133.80 223.90 L134.30 223.90 L134.80 223.90 L135.30 223.89 L135.80 223.89 L136.30 223.88 L136.80 223.88 L137.30 223.87 L137.80 223.87 L138.30 223.86 L138.80 223.86 L139.30 223.85 L139.80 223.85 L140.30 223.85 L140.80 223.84 L141.30 223.84 L141.80 223.83 L142.30 223.83 L142.80 223.82 L143.30 223.82 L143.80 223.82 L144.30 223.81 L144.80 223.81 L145.30 223.80 L145.80 223.80 L146.30 223.79 L146.80 223.79 L147.30 223.79 L147.80 223.78 L148.30 223.78 L148.80 223.77 L149.30 223.77 L149.80 223.77 L150.30 223.76 L150.80 223.76 L151.30 223.75 L151.80 223.75 L152.30 223.75 L152.80 223.74 L153.30 223.74 L153.80 223.73 L154.30 223.73 L154.80 223.73 L155.30 223.72 L155.80 223.72 L156.30 223.72 L156.80 223.71 L157.30 223.71 L157.80 223.70 L158.30 223.70 L158.80 223.70 L159.30 223.69 L159.80 223.69 L160.30 223.69 L160.80 223.68 L161.30 223.68 L161.80 223.68 L162.30 223.67 L162.80 223.67 L163.30 223.66 L163.80 223.66 L164.30 223.66 L164.80 223.65 L165.30 223.65 L165.80 223.65 L166.30 223.64 L166.80 223.64 L167.30 223.64 L167.80 223.63 L168.30 223.63 L168.80 223.63 L169.30 223.63 L169.80 223.62 L170.30 223.62 L170.80 223.62 L171.30 223.61 L171.80 223.61 L172.30 223.61 L172.80 223.60 L173.30 223.60 L173.80 223.60 L174.30 223.59 L174.80 223.59 L175.30 223.59 L175.80 223.59 L176.30 223.58 L176.80 223.58 L177.30 223.58 L177.80 223.57 L178.30 223.57 L178.80 223.57 L179.30 223.57 L179.80 223.56 L180.30 223.56 L180.80 223.56 L181.30 223.55 L181.80 223.55 L182.30 223.55 L182.80 223.55 L183.30 223.54 L183.80 223.54 L184.30 223.54 L184.80 223.54 L185.30 223.53 L185.80 223.53 L186.30 223.53 L186.80 223.53 L187.30 223.52 L187.80 223.52 L188.30 223.52 L188.80 223.52 L189.30 223.51 L189.80 223.51 L190.30 223.51 L190.80 223.51 L191.30 223.50 L191.80 223.50 L192.30 223.50 L192.80 223.50 L193.30 223.50 L193.80 223.49 L194.30 223.49 L194.80 223.49 L195.30 223.49 L195.80 223.49 L196.30 223.48 L196.80 223.48 L197.30 223.48 L197.80 223.48 L198.30 223.48 L198.80 223.47 L199.30 223.47 L199.80 223.47 L200.30 223.47 L200.80 223.47 L201.30 223.46 L201.80 223.46 L202.30 223.46 L202.80 223.46 L203.30 223.46 L203.80 223.45 L204.30 223.45 L204.80 223.45 L205.30 223.45 L205.80 223.45 L206.30 223.45 L206.80 223.44 L207.30 223.44 L207.80 223.44 L208.30 223.44 L208.80 223.44 L209.30 223.44 L209.80 223.44 L210.30 223.43 L210.80 223.43 L211.30 223.43 L211.80 223.43 L212.30 223.43 L212.80 223.43 L213.30 223.43 L213.80 223.42 L214.30 223.42 L214.80 223.42 L215.30 223.42 L215.80 223.42 L216.30 223.42 L216.80 223.42 L217.30 223.41 L217.80 223.41 L218.30 223.41 L218.80 223.41 L219.30 223.41 L219.80 223.41 L220.30 223.41 L220.80 223.41 L221.30 223.41 L221.80 223.41 L222.30 223.40 L222.80 223.40 L223.30 223.40 L223.80 223.40 L224.30 223.40 L224.80 223.40 L225.30 223.40 L225.80 223.40 L226.30 223.40 L226.80 223.40 L227.30 223.40 L227.80 223.39 L228.30 223.39 L228.80 223.39 L229.30 223.39 L229.80 223.39 L230.30 223.39 L230.80 223.39 L231.30 223.39 L231.80 223.39 L232.30 223.39 L232.80 223.39 L233.30 223.39 L233.80 223.39 L234.30 223.39 L234.80 223.39 L235.30 223.39 L235.80 223.39 L236.30 223.38 L236.80 223.38 L237.30 223.38 L237.80 223.38 L238.30 223.38 L238.80 223.38 L239.30 223.38 L239.80 223.38 L240.30 223.38 L240.80 223.38 L241.30 223.38 L241.80 223.38 L242.30 223.38 L242.80 223.38 L243.30 223.38 L243.80 223.38 L244.30 223.38 L244.80 223.38 L245.30 223.38 L245.80 223.38 L246.30 223.38 L246.80 223.38 L247.30 223.38 L247.80 223.38 L248.30 223.38 L248.80 223.38 L249.30 223.38 L249.80 223.38 L250.30 223.38 L250.80 223.38 L251.30 223.38 L251.80 223.38 L252.30 223.38 L252.80 223.38 L253.30 223.38 L253.80 223.38 L254.30 223.38 L254.80 223.38 L255.30 223.39 L255.80 223.39 L256.30 223.39 L256.80 223.39 L257.30 223.39 L257.80 223.39 L258.30 223.39 L258.80 223.39 L259.30 223.39 L259.80 223.39 L260.30 223.39 L260.80 223.39 L261.30 223.39 L261.80 223.39 L262.30 223.39 L262.80 223.39 L263.30 223.39 L263.80 223.40 L264.30 223.40 L264.80 223.40 L265.30 223.40 L265.80 223.40 L266.30 223.40 L266.80 223.40 L267.30 223.40 L267.80 223.40 L268.30 223.40 L268.80 223.40 L269.30 223.40 L269.80 223.41 L270.30 223.41 L270.80 223.41 L271.30 223.41 L271.80 223.41 L272.30 223.41 L272.80 223.41 L273.30 223.41 L273.80 223.41 L274.30 223.42 L274.80 223.42 L275.30 223.42 L275.80 223.42 L276.30 223.42 L276.80 223.42 L277.30 223.42 L277.80 223.42 L278.30 223.43 L278.80 223.43 L279.30 223.43 L279.80 223.43 L280.30 223.43 L280.80 223.43 L281.30 223.43 L281.80 223.44 L282.30 223.44 L282.80 223.44 L283.30 223.44 L283.80 223.44 L284.30 223.44 L284.80 223.45 L285.30 223.45 L285.80 223.45 L286.30 223.45 L286.80 223.45 L287.30 223.45 L287.80 223.46 L288.30 223.46 L288.80 223.46 L289.30 223.46 L289.80 223.46 L290.30 223.46 L290.80 223.47 L291.30 223.47 L291.80 223.47 L292.30 223.47 L292.80 223.47 L293.30 223.48 L293.80 223.48 L294.30 223.48 L294.80 223.48 L295.30 223.48 L295.80 223.49 L296.30 223.49 L296.80 223.49 L297.30 223.49 L297.80 223.49 L298.30 223.50 L298.80 223.50 L299.30 223.50 L299.80 223.50 L300.30 223.51 L300.80 223.51 L301.30 223.51 L301.80 223.51 L302.30 223.52 L302.80 223.52 L303.30 223.52 L303.80 223.52 L304.30 223.53 L304.80 223.53 L305.30 223.53 L305.80 223.53 L306.30 223.53 L306.55 223.54" stroke="#00aa00"/>
<path d="M26.45 237.26 L26.95 237.06 L27.45 236.85 L27.95 236.65 L28.45 236.45 L28.95 236.25 L29.45 236.05 L29.95 235.85 L30.45 235.65 L30.95 235.45 L31.45 235.25 L31.95 235.05 L32.45 234.86 L32.95 234.66 L33.45 234.47 L33.95 234.27 L34.45 234.08 L34.95 233.89 L35.45 233.69 L35.95 233.50 L36.45 233.31 L36.95 233.12 L37.45 232.93 L37.95 232.74 L38.45 232.55 L38.95 232.37 L39.45 232.18 L39.95 231.99 L40.45 231.81 L40.95 231.62 L41.45 231.44 L41.95 231.26 L42.45 231.07 L42.95 230.89 L43.45 230.71 L43.95 230.53 L44.45 230.35 L44.95 230.17 L45.45 229.99 L45.95 229.81 L46.45 229.64 L46.95 229.46 L47.45 229.29 L47.95 229.11 L48.45 228.94 L48.95 228.76 L49.45 228.59 L49.95 228.42 L50.45 228.25 L50.95 228.07 L51.45 227.90 L51.95 227.74 L52.45 227.57 L52.95 227.40 L53.45 227.23 L53.95 227.06 L54.45 226.90 L54.95 226.73 L55.45 226.57 L55.95 226.41 L56.45 226.24 L56.95 226.08 L57.45 225.92 L57.95 225.76 L58.45 225.60 L58.95 225.44 L59.45 225.28 L59.95 225.12 L60.45 224.96 L60.95 224.81 L61.45 224.65 L61.95 224.49 L62.45 224.34 L62.95 224.18 L63.45 224.03 L63.95 223.88 L64.45 223.73 L64.95 223.58 L65.45 223.42 L65.95 223.27 L66.30 223.17 L66.80 223.07 L67.30 223.06 L67.80 223.05 L68.30 223.04 L68.80 223.03 L69.30 223.03 L69.80 223.02 L70.30 223.01 L70.80 223.00 L71.30 223.00 L71.80 222.99 L72.30 222.98 L72.80 222.97 L73.30 222.97 L73.80 222.96 L74.30 222.95 L74.80 222.94 L75.30 222.94 L75.80 222.93 L76.30 222.92 L76.80 222.91 L77.30 222.91 L77.80 222.90 L78.30 222.89 L78.80 222.89 L79.30 222.88 L79.80 222.87 L80.30 222.86 L80.80 222.86 L81.30 222.85 L81.80 222.84 L82.30 222.83 L82.80 222.83 L83.30 222.82 L83.80 222.81 L84.30 222.81 L84.80 222.80 L85.30 222.79 L85.80 222.79 L86.30 222.78 L86.80 222.77 L87.30 222.76 L87.80 222.76 L88.30 222.75 L88.80 222.74 L89.30 222.74 L89.80 222.73 L90.30 222.72 L90.80 222.72 L91.30 222.71 L91.80 222.70 L92.30 222.70 L92.80 222.69 L93.30 222.68 L93.80 222.68 L94.30 222.67 L94.80 222.66 L95.30 222.66 L95.80 222.65 L96.30 222.64 L96.80 222.64 L97.30 222.63 L97.80 222.62 L98.30 222.62 L98.80 222.61 L99.30 222.60 L99.80 222.60 L100.30 222.59 L100.80 222.58 L101.30 222.58 L101.80 222.57 L102.30 222.57 L102.80 222.56 L103.30 222.55 L103.80 222.55 L104.30 222.54 L104.80 222.53 L105.30 222.53 L105.80 222.52 L106.30 222.52 L106.80 222.51 L107.30 222.50 L107.80 222.50 L108.30 222.49 L108.80 222.48 L109.30 222.48 L109.80 222.47 L110.30 222.47 L110.80 222.46 L111.30 222.45 L111.80 222.45 L112.30 222.44 L112.80 222.44 L113.30 222.43 L113.80 222.42 L114.30 222.42 L114.80 222.41 L115.30 222.41 L115.80 222.40 L116.30 222.40 L116.80 222.39 L117.30 222.38 L117.80 222.38 L118.30 222.37 L118.80 222.37 L119.30 222.36 L119.80 222.36 L120.30 222.35 L120.80 222.34 L121.30 222.34 L121.80 222.33 L122.30 222.33 L122.80 222.32 L123.30 222.32 L123.80 222.31 L124.30 222.31 L124.80 222.30 L125.30 222.29 L125.80 222.29 L126.30 222.28 L126.80 222.28 L127.30 222.27 L127.80 222.27 L128.30 222.26 L128.80 222.26 L129.30 222.25 L129.80 222.25 L130.30 222.24 L130.80 222.24 L131.30 222.23 L131.80 222.23 L132.30 222.22 L132.80 222.22 L133.30 222.21 L133.80 222.21 L134.30 222.20 L134.80 222.20 L135.30 222.19 L135.80 222.19 L136.30 222.18 L136.80 222.18 L137.30 222.17 L137.80 222.17 L138.30 222.16 L138.80 222.16 L139.30 222.15 L139.80 222.15 L140.30 222.14 L140.80 222.14 L141.30 222.13 L141.80 222.13 L142.30 222.12 L142.80 222.12 L143.30 222.11 L143.80 222.11 L144.30 222.10 L144.80 222.10 L145.30 222.09 L145.80 222.09 L146.30 222.08 L146.80 222.08 L147.30 222.08 L147.80 222.07 L148.30 222.07 L148.80 222.06 L149.30 222.06 L149.80 222.05 L150.30 222.05 L150.80 222.04 L151.30 222.04 L151.80 222.03 L152.30 222.03 L152.80 222.03 L153.30 222.02 L153.80 222.02 L154.30 222.01 L154.80 222.01 L155.30 222.00 L155.80 222.00 L156.30 222.00 L156.80 221.99 L157.30 221.99 L157.80 221.98 L158.30 221.98 L158.80 221.98 L159.30 221.97 L159.80 221.97 L160.30 221.96 L160.80 221.96 L161.30 221.96 L161.80 221.95 L162.30 221.95 L162.80 221.94 L163.30 221.94 L163.80 221.94 L164.30 221.93 L164.80 221.93 L165.30 221.92 L165.80 221.92 L166.30 221.92 L166.80 221.91 L167.30 221.91 L167.80 221.90 L168.30 221.90 L168.80 221.90 L169.30 221.89 L169.80 221.89 L170.30 221.89 L170.80 221.88 L171.30 221.88 L171.80 221.88 L172.30 221.87 L172.80 221.87 L173.30 221.86 L173.80 221.86 L174.30 221.86 L174.80 221.85 L175.30 221.85 L175.80 221.85 L176.30 221.84 L176.80 221.84 L177.30 221.84 L177.80 221.83 L178.30 221.83 L178.80 221.83 L179.30 221.82 L179.80 221.82 L180.30 221.82 L180.80 221.81 L181.30 221.81 L181.80 221.81 L182.30 221.80 L182.80 221.80 L183.30 221.80 L183.80 221.80 L184.30 221.79 L184.80 221.79 L185.30 221.79 L185.80 221.78 L186.30 221.78 L186.80 221.78 L187.30 221.77 L187.80 221.77 L188.30 221.77 L188.80 221.76 L189.30 221.76 L189.80 221.76 L190.30 221.76 L190.80 221.75 L191.30 221.75 L191.80 221.75 L192.30 221.74 L192.80 221.74 L193.30 221.74 L193.80 221.74 L194.30 221.73 L194.80 221.73 L195.30 221.73 L195.80 221.73 L196.30 221.72 L196.80 221.72 L197.30 221.72 L197.80 221.72 L198.30 221.71 L198.80 221.71 L199.30 221.71 L199.80 221.71 L200.30 221.70 L200.80 221.70 L201.30 221.70 L201.80 221.70 L202.30 221.69 L202.80 221.69 L203.30 221.69 L203.80 221.69 L204.30 221.68 L204.80 221.68 L205.30 221.68 L205.80 221.68 L206.30 221.67 L206.80 221.67 L207.30 221.67 L207.80 221.67 L208.30 221.67 L208.80 221.66 L209.30 221.66 L209.80 221.66 L210.30 221.66 L210.80 221.66 L211.30 221.65 L211.80 221.65 L212.30 221.65 L212.80 221.65 L213.30 221.65 L213.80 221.64 L214.30 221.64 L214.80 221.64 L215.30 221.64 L215.80 221.64 L216.30 221.63 L216.80 221.63 L217.30 221.63 L217.80 221.63 L218.30 221.63 L218.80 221.63 L219.30 221.62 L219.80 221.62 L220.30 221.62 L220.80 221.62 L221.30 221.62 L221.80 221.62 L222.30 221.61 L222.80 221.61 L223.30 221.61 L223.80 221.61 L224.30 221.61 L224.80 221.61 L225.30 221.60 L225.80 221.60 L226.30 221.60 L226.80 221.60 L227.30 221.60 L227.80 221.60 L228.30 221.60 L228.80 221.59 L229.30 221.59 L229.80 221.59 L230.30 221.59 L230.80 221.59 L231.30 221.59 L231.80 221.59 L232.30 221.59 L232.80 221.58 L233.30 221.58 L233.80 221.58 L234.30 221.58 L234.80 221.58 L235.30 221.58 L235.80 221.58 L236.30 221.58 L236.80 221.58 L237.30 221.57 L237.80 221.57 L238.30 221.57 L238.80 221.57 L239.30 221.57 L239.80 221.57 L240.30 221.57 L240.80 221.57 L241.30 221.57 L241.80 221.57 L242.30 221.57 L242.80 221.57 L243.30 221.56 L243.80 221.56 L244.30 221.56 L244.80 221.56 L245.30 221.56 L245.80 221.56 L246.30 221.56 L246.80 221.56 L247.30 221.56 L247.80 221.56 L248.30 221.56 L248.80 221.56 L249.30 221.56 L249.80 221.56 L250.30 221.56 L250.80 221.56 L251.30 221.55 L251.80 221.55 L252.30 221.55 L252.80 221.55 L253.30 221.55 L253.80 221.55 L254.30 221.55 L254.80 221.55 L255.30 221.55 L255.80 221.55 L256.30 221.55 L256.80 221.55 L257.30 221.55 L257.80 221.55 L258.30 221.55 L258.80 221.55 L259.30 221.55 L259.80 221.55 L260.30 221.55 L260.80 221.55 L261.30 221.55 L261.80 221.55 L262.30 221.55 L262.80 221.55 L263.30 221.55 L263.80 221.55 L264.30 221.55 L264.80 221.55 L265.30 221.55 L265.80 221.55 L266.30 221.55 L266.80 221.55 L267.30 221.55 L267.80 221.55 L268.30 221.55 L268.80 221.55 L269.30 221.55 L269.80 221.55 L270.30 221.55 L270.80 221.55 L271.30 221.55 L271.80 221.55 L272.30 221.55 L272.80 221.55 L273.30 221.55 L273.80 221.55 L274.30 221.56 L274.80 221.56 L275.30 221.56 L275.80 221.56 L276.30 221.56 L276.80 221.56 L277.30 221.56 L277.80 221.56 L278.30 221.56 L278.80 221.56 L279.30 221.56 L279.80 221.56 L280.30 221.56 L280.80 221.56 L281.30 221.56 L281.80 221.56 L282.30 221.57 L282.80 221.57 L283.30 221.57 L283.80 221.57 L284.30 221.57 L284.80 221.57 L285.30 221.57 L285.80 221.57 L286.30 221.57 L286.80 221.57 L287.30 221.57 L287.80 221.57 L288.30 221.58 L288.80 221.58 L289.30 221.58 L289.80 221.58 L290.30 221.58 L290.80 221.58 L291.30 221.58 L291.80 221.58 L292.30 221.58 L292.80 221.59 L293.30 221.59 L293.80 221.59 L294.30 221.59 L294.80 221.59 L295.30 221.59 L295.80 221.59 L296.30 221.59 L296.80 221.60 L297.30 221.60 L297.80 221.60 L298.30 221.60 L298.80 221.60 L299.30 221.60 L299.80 221.60 L300.30 221.61 L300.80 221.61 L301.30 221.61 L301.80 221.61 L302.30 221.61 L302.80 221.61 L303.30 221.62 L303.80 221.62 L304.30 221.62 L304.80 221.62 L305.30 221.62 L305.80 221.62 L306.30 221.63 L306.55 221.63" stroke="#00aa00" stroke-dasharray="4.14 3.22" stroke-dashoffset="2.16"/>
</g>
<g fill="none" stroke-width="1.75" clip-path="url(#cB)">
<path d="M390.50 18.80 L390.90 24.83 L391.30 30.31 L391.70 35.33 L392.10 39.97 L392.50 44.28 L392.90 48.31 L393.30 52.10 L393.70 55.68 L394.10 59.08 L394.50 62.33 L394.90 65.43 L395.30 68.42 L395.70 71.29 L396.10 74.07 L396.50 76.76 L396.90 79.36 L397.30 81.89 L397.70 84.35 L398.10 86.75 L398.50 89.09 L398.90 91.37 L399.30 93.59 L399.70 95.76 L400.10 97.89 L400.50 99.97 L400.90 102.00 L401.30 103.99 L401.70 105.93 L402.10 107.84 L402.50 109.71 L402.90 111.54 L403.30 113.33 L403.70 115.09 L404.10 116.81 L404.50 118.50 L404.90 120.16 L405.30 121.78 L405.70 123.37 L406.10 124.93 L406.50 126.47 L406.90 127.97 L407.30 129.44 L407.70 130.89 L408.10 132.31 L408.50 133.70 L408.90 135.07 L409.30 136.41 L409.70 137.73 L410.10 139.02 L410.50 140.29 L410.90 141.54 L411.30 142.77 L411.70 143.97 L412.10 145.15 L412.50 146.31 L412.90 147.45 L413.30 148.56 L413.70 149.66 L414.10 150.74 L414.50 151.80 L414.90 152.85 L415.30 153.87 L415.70 154.88 L416.10 155.86 L416.50 156.84 L416.90 157.79 L417.30 158.73 L417.70 159.65 L418.10 160.56 L418.50 161.45 L418.90 162.33 L419.30 163.19 L419.70 164.04 L420.10 164.87 L420.50 165.70 L420.90 166.50 L421.30 167.30 L421.70 168.08 L422.10 168.84 L422.50 169.60 L422.90 170.34 L423.30 171.08 L423.70 171.79 L424.10 172.50 L424.50 173.20 L424.90 173.89 L425.30 174.56 L425.70 175.23 L426.10 175.88 L426.50 176.52 L426.90 177.16 L427.30 177.78 L427.70 178.40 L428.10 179.00 L428.50 179.60 L428.90 180.19 L429.30 180.76 L429.70 181.33 L430.10 181.89 L430.50 182.45 L430.90 182.99 L431.30 183.53 L431.70 184.06 L432.10 184.58 L432.50 185.09 L432.90 185.59 L433.30 186.09 L433.70 186.58 L434.10 187.07 L434.50 187.54 L434.90 188.01 L435.30 188.47 L435.70 188.93 L436.10 189.38 L436.50 189.82 L436.90 190.26 L437.30 190.69 L437.70 191.12 L438.10 191.54 L438.50 191.95 L438.90 192.36 L439.30 192.76 L439.70 193.16 L440.10 193.55 L440.50 193.93 L440.90 194.31 L441.30 194.69 L441.70 195.06 L442.10 195.42 L442.50 195.78 L442.90 196.14 L443.30 196.49 L443.70 196.83 L444.10 197.17 L444.50 197.51 L444.90 197.84 L445.30 198.17 L445.70 198.49 L446.10 198.81 L446.50 199.13 L446.90 199.44 L447.30 199.74 L447.70 200.05 L448.10 200.35 L448.50 200.64 L448.90 200.93 L449.30 201.22 L449.70 201.50 L450.10 201.78 L450.50 202.06 L450.90 202.33 L451.30 202.60 L451.70 202.87 L452.10 203.13 L452.50 203.39 L452.90 203.65 L453.30 203.90 L453.70 204.15 L454.10 204.40 L454.50 204.64 L454.90 204.88 L455.30 205.12 L455.70 205.36 L456.10 205.59 L456.50 205.82 L456.90 206.04 L457.30 206.27 L457.70 206.49 L458.10 206.71 L458.50 206.92 L458.90 207.14 L459.30 207.35 L459.70 207.55 L460.10 207.76 L460.50 207.96 L460.90 208.16 L461.30 208.36 L461.70 208.56 L462.10 208.75 L462.50 208.94 L462.90 209.13 L463.30 209.32 L463.70 209.50 L464.10 209.68 L464.50 209.86 L464.90 210.04 L465.30 210.22 L465.70 210.39 L466.10 210.56 L466.50 210.73 L466.90 210.90 L467.30 211.07 L467.70 211.23 L468.10 211.39 L468.50 211.55 L468.90 211.71 L469.30 211.87 L469.70 212.02 L470.10 212.17 L470.50 212.33 L470.90 212.48 L471.30 212.62 L471.70 212.77 L472.10 212.91 L472.50 213.06 L472.90 213.20 L473.30 213.34 L473.70 213.48 L474.10 213.61 L474.50 213.75 L474.90 213.88 L475.30 214.01 L475.70 214.14 L476.10 214.27 L476.50 214.40 L476.90 214.52 L477.30 214.65 L477.70 214.77 L478.10 214.89 L478.50 215.02 L478.90 215.13 L479.30 215.25 L479.70 215.37 L480.10 215.48 L480.50 215.60 L480.90 215.71 L481.30 215.82 L481.70 215.93 L482.10 216.04 L482.50 216.15 L482.90 216.26 L483.30 216.36 L483.70 216.47 L484.10 216.57 L484.50 216.67 L484.90 216.77 L485.30 216.87 L485.70 216.97 L486.10 217.07 L486.50 217.17 L486.90 217.26 L487.30 217.36 L487.70 217.45 L488.10 217.54 L488.50 217.63 L488.90 217.73 L489.30 217.82 L489.70 217.90 L490.10 217.99 L490.50 218.08 L490.90 218.16 L491.30 218.25 L491.70 218.33 L492.10 218.42 L492.50 218.50 L492.90 218.58 L493.30 218.66 L493.70 218.74 L494.10 218.82 L494.50 218.90 L494.90 218.97 L495.30 219.05 L495.70 219.13 L496.10 219.20 L496.50 219.27 L496.90 219.35 L497.30 219.42 L497.70 219.49 L498.10 219.56 L498.50 219.63 L498.90 219.70 L499.30 219.77 L499.70 219.84 L500.10 219.91 L500.50 219.97 L500.90 220.04 L501.30 220.10 L501.70 220.17 L502.10 220.23 L502.50 220.30 L502.90 220.36 L503.30 220.42 L503.70 220.48 L504.10 220.54 L504.50 220.60 L504.90 220.66 L505.30 220.72 L505.70 220.78 L506.10 220.83 L506.50 220.89 L506.90 220.95 L507.30 221.00 L507.70 221.06 L508.10 221.11 L508.50 221.17 L508.90 221.22 L509.30 221.27 L509.70 221.33 L510.10 221.38 L510.50 221.43 L510.90 221.48 L511.30 221.53 L511.70 221.58 L512.10 221.63 L512.50 221.68 L512.90 221.73 L513.30 221.77 L513.70 221.82 L514.10 221.87 L514.50 221.91 L514.90 221.96 L515.30 222.01 L515.70 222.05 L516.10 222.10 L516.50 222.14 L516.90 222.18 L517.30 222.23 L517.70 222.27 L518.10 222.31 L518.50 222.35 L518.90 222.39 L519.30 222.44 L519.70 222.48 L520.10 222.52 L520.50 222.56 L520.90 222.60 L521.30 222.63 L521.70 222.67 L522.10 222.71 L522.50 222.75 L522.90 222.79 L523.30 222.82 L523.70 222.86 L524.10 222.90 L524.50 222.93 L524.90 222.97 L525.30 223.00 L525.70 223.04 L526.10 223.07 L526.50 223.11 L526.90 223.14 L527.30 223.18 L527.70 223.21 L528.10 223.24 L528.50 223.27 L528.90 223.31 L529.30 223.34 L529.70 223.37 L530.10 223.40 L530.50 223.43 L530.90 223.46 L531.30 223.49 L531.70 223.52 L532.10 223.55 L532.50 223.58 L532.90 223.61 L533.30 223.64 L533.70 223.67 L534.10 223.70 L534.50 223.73 L534.90 223.76 L535.30 223.78 L535.70 223.81 L536.10 223.84 L536.50 223.87 L536.90 223.89 L537.30 223.92 L537.70 223.94 L538.10 223.97 L538.50 224.00 L538.90 224.02 L539.30 224.05 L539.70 224.07 L540.10 224.10 L540.50 224.12 L540.90 224.14 L541.30 224.17 L541.70 224.19 L542.10 224.22 L542.50 224.24 L542.90 224.26 L543.30 224.28 L543.70 224.31 L544.10 224.33 L544.50 224.35 L544.90 224.37 L545.30 224.40 L545.70 224.42 L546.10 224.44 L546.50 224.46 L546.90 224.48 L547.30 224.50 L547.70 224.52 L548.10 224.54 L548.50 224.56 L548.90 224.58 L549.30 224.60 L549.70 224.62 L550.10 224.64 L550.50 224.66 L550.90 224.68 L551.30 224.70 L551.70 224.72 L552.10 224.74 L552.50 224.76 L552.90 224.77 L553.30 224.79 L553.70 224.81 L554.10 224.83 L554.50 224.85 L554.90 224.86 L555.30 224.88 L555.70 224.90 L556.10 224.92 L556.50 224.93 L556.90 224.95 L557.30 224.97 L557.70 224.98 L558.10 225.00 L558.50 225.02 L558.90 225.03 L559.30 225.05 L559.70 225.06 L560.10 225.08 L560.50 225.09 L560.90 225.11 L561.30 225.12 L561.70 225.14 L562.10 225.15 L562.50 225.17 L562.90 225.18 L563.30 225.20 L563.70 225.21 L564.10 225.23 L564.50 225.24 L564.90 225.26 L565.30 225.27 L565.70 225.28 L566.10 225.30 L566.50 225.31 L566.90 225.32 L567.30 225.34 L567.70 225.35 L568.10 225.36 L568.50 225.38 L568.90 225.39 L569.30 225.40 L569.70 225.42 L570.10 225.43 L570.50 225.44 L570.90 225.45 L571.30 225.47 L571.70 225.48 L572.10 225.49 L572.50 225.50 L572.90 225.51 L573.30 225.53 L573.70 225.54 L574.10 225.55 L574.50 225.56 L574.90 225.57 L575.30 225.58 L575.70 225.59 L576.10 225.61 L576.50 225.62 L576.90 225.63 L577.30 225.64 L577.70 225.65 L578.10 225.66 L578.50 225.67 L578.90 225.68 L579.30 225.69 L579.70 225.70 L580.10 225.71 L580.50 225.72 L580.90 225.73 L581.30 225.74 L581.70 225.75 L582.10 225.76 L582.50 225.77 L582.90 225.78 L583.30 225.79 L583.70 225.80 L584.10 225.81 L584.50 225.82 L584.90 225.83 L585.30 225.84 L585.70 225.85 L586.10 225.86 L586.50 225.87 L586.90 225.88 L587.30 225.89 L587.70 225.90 L588.10 225.90 L588.50 225.91 L588.90 225.92 L589.30 225.93 L589.70 225.94 L590.10 225.95 L590.50 225.96 L590.90 225.97 L591.30 225.97 L591.70 225.98 L592.10 225.99 L592.50 226.00 L592.90 226.01 L593.30 226.01 L593.70 226.02 L594.10 226.03 L594.50 226.04 L594.90 226.05 L595.30 226.05 L595.70 226.06 L596.10 226.07 L596.50 226.08 L596.90 226.09 L597.30 226.09 L597.70 226.10 L598.10 226.11 L598.50 226.12 L598.90 226.12 L599.30 226.13 L599.70 226.14 L600.10 226.14 L600.50 226.15 L600.90 226.16 L601.30 226.17 L601.70 226.17 L602.10 226.18 L602.50 226.19 L602.90 226.19 L603.30 226.20 L603.70 226.21 L604.10 226.21 L604.50 226.22 L604.90 226.23 L605.30 226.23 L605.70 226.24 L606.10 226.25 L606.50 226.25 L606.90 226.26 L607.30 226.27 L607.70 226.27 L608.10 226.28 L608.50 226.29 L608.90 226.29 L609.30 226.30 L609.70 226.31 L610.10 226.31 L610.50 226.32 L610.90 226.32 L611.30 226.33 L611.70 226.34 L612.10 226.34 L612.50 226.35 L612.90 226.35 L613.30 226.36 L613.70 226.37 L614.10 226.37 L614.50 226.38 L614.90 226.38 L615.30 226.39 L615.70 226.40 L616.10 226.40 L616.50 226.41 L616.90 226.41 L617.30 226.42 L617.70 226.42 L618.10 226.43 L618.50 226.44 L618.90 226.44 L619.30 226.45 L619.70 226.45 L620.10 226.46 L620.50 226.46 L620.90 226.47 L621.30 226.47 L621.70 226.48 L622.10 226.48 L622.50 226.49 L622.90 226.49 L623.30 226.50 L623.70 226.50 L624.10 226.51 L624.50 226.52 L624.90 226.52 L625.30 226.53 L625.70 226.53 L626.10 226.54 L626.50 226.54 L626.90 226.55 L627.30 226.55 L627.70 226.56 L628.10 226.56 L628.50 226.57 L628.90 226.57 L629.30 226.58 L629.70 226.58 L630.10 226.58 L630.50 226.59 L630.90 226.59 L631.30 226.60 L631.70 226.60 L632.10 226.61 L632.50 226.61 L632.90 226.62 L633.30 226.62 L633.70 226.63 L634.10 226.63 L634.50 226.64 L634.90 226.64 L635.30 226.65 L635.70 226.65 L636.10 226.65 L636.50 226.66 L636.90 226.66 L637.30 226.67 L637.70 226.67 L638.10 226.68 L638.50 226.68 L638.90 226.69 L639.30 226.69 L639.70 226.70 L640.10 226.70 L640.50 226.70 L640.90 226.71 L641.30 226.71 L641.70 226.72 L642.10 226.72 L642.50 226.73 L642.90 226.73 L643.30 226.73 L643.70 226.74 L644.10 226.74 L644.50 226.75 L644.90 226.75 L645.30 226.75 L645.70 226.76 L646.10 226.76 L646.50 226.77 L646.90 226.77 L647.30 226.78 L647.70 226.78 L648.10 226.78 L648.50 226.79 L648.90 226.79 L649.30 226.80 L649.70 226.80 L650.10 226.80 L650.50 226.81 L650.90 226.81 L651.30 226.82 L651.70 226.82 L652.10 226.82 L652.50 226.83 L652.90 226.83 L653.30 226.84 L653.70 226.84 L654.10 226.84 L654.50 226.85 L654.90 226.85 L655.30 226.86 L655.70 226.86 L656.10 226.86 L656.50 226.87 L656.90 226.87 L657.30 226.87 L657.70 226.88 L658.10 226.88 L658.50 226.89 L658.90 226.89 L659.30 226.89 L659.70 226.90 L660.10 226.90 L660.50 226.90 L660.90 226.91 L661.30 226.91 L661.70 226.92 L662.10 226.92 L662.50 226.92 L662.90 226.93 L663.30 226.93 L663.70 226.93 L664.10 226.94 L664.50 226.94 L664.90 226.95 L665.30 226.95 L665.70 226.95 L666.10 226.96 L666.50 226.96 L666.90 226.96 L667.30 226.97 L667.70 226.97 L668.10 226.97 L668.50 226.98 L668.90 226.98 L669.30 226.98 L669.70 226.99 L670.10 226.99 L670.50 227.00 L670.90 227.00 L671.05 227.00" stroke="#ff0000"/>
<path d="M390.50 18.95 L390.90 24.41 L391.30 29.53 L391.70 34.34 L392.10 38.86 L392.50 43.13 L392.90 47.16 L393.30 50.97 L393.70 54.59 L394.10 58.03 L394.50 61.30 L394.90 64.42 L395.30 67.40 L395.70 70.26 L396.10 72.99 L396.50 75.62 L396.90 78.15 L397.30 80.58 L397.70 82.93 L398.10 85.20 L398.50 87.40 L398.90 89.52 L399.30 91.59 L399.70 93.59 L400.10 95.53 L400.50 97.43 L400.90 99.27 L401.30 101.07 L401.70 102.83 L402.10 104.54 L402.50 106.22 L402.90 107.86 L403.30 109.46 L403.70 111.03 L404.10 112.57 L404.50 114.07 L404.90 115.55 L405.30 117.00 L405.70 118.43 L406.10 119.82 L406.50 121.20 L406.90 122.55 L407.30 123.87 L407.70 125.18 L408.10 126.46 L408.50 127.72 L408.90 128.96 L409.30 130.18 L409.70 131.39 L410.10 132.57 L410.50 133.73 L410.90 134.88 L411.30 136.01 L411.70 137.12 L412.10 138.22 L412.50 139.30 L412.90 140.36 L413.30 141.41 L413.70 142.45 L414.10 143.47 L414.50 144.47 L414.90 145.46 L415.30 146.43 L415.70 147.40 L416.10 148.34 L416.50 149.28 L416.90 150.20 L417.30 151.11 L417.70 152.00 L418.10 152.89 L418.50 153.76 L418.90 154.62 L419.30 155.46 L419.70 156.30 L420.10 157.12 L420.50 157.93 L420.90 158.74 L421.30 159.53 L421.70 160.30 L422.10 161.07 L422.50 161.83 L422.90 162.58 L423.30 163.32 L423.70 164.04 L424.10 164.76 L424.50 165.47 L424.90 166.17 L425.30 166.85 L425.70 167.53 L426.10 168.20 L426.50 168.86 L426.90 169.51 L427.30 170.16 L427.70 170.79 L428.10 171.42 L428.50 172.03 L428.90 172.64 L429.30 173.24 L429.70 173.83 L430.10 174.42 L430.50 174.99 L430.90 175.56 L431.30 176.12 L431.70 176.68 L432.10 177.22 L432.50 177.76 L432.90 178.29 L433.30 178.82 L433.70 179.33 L434.10 179.84 L434.50 180.35 L434.90 180.84 L435.30 181.33 L435.70 181.82 L436.10 182.29 L436.50 182.76 L436.90 183.23 L437.30 183.68 L437.70 184.14 L438.10 184.58 L438.50 185.02 L438.90 185.45 L439.30 185.88 L439.70 186.30 L440.10 186.72 L440.50 187.13 L440.90 187.54 L441.30 187.94 L441.70 188.33 L442.10 188.72 L442.50 189.11 L442.90 189.48 L443.30 189.86 L443.70 190.23 L444.10 190.59 L444.50 190.95 L444.90 191.31 L445.30 191.66 L445.70 192.00 L446.10 192.34 L446.50 192.68 L446.90 193.01 L447.30 193.34 L447.70 193.66 L448.10 193.98 L448.50 194.29 L448.90 194.61 L449.30 194.91 L449.70 195.21 L450.10 195.51 L450.50 195.81 L450.90 196.10 L451.30 196.38 L451.70 196.67 L452.10 196.95 L452.50 197.22 L452.90 197.49 L453.30 197.76 L453.70 198.03 L454.10 198.29 L454.50 198.55 L454.90 198.80 L455.30 199.05 L455.70 199.30 L456.10 199.55 L456.50 199.79 L456.90 200.03 L457.30 200.26 L457.70 200.50 L458.10 200.73 L458.50 200.95 L458.90 201.18 L459.30 201.40 L459.70 201.61 L460.10 201.83 L460.50 202.04 L460.90 202.25 L461.30 202.46 L461.70 202.66 L462.10 202.86 L462.50 203.06 L462.90 203.26 L463.30 203.45 L463.70 203.65 L464.10 203.83 L464.50 204.02 L464.90 204.21 L465.30 204.39 L465.70 204.57 L466.10 204.74 L466.50 204.92 L466.90 205.09 L467.30 205.26 L467.70 205.43 L468.10 205.60 L468.50 205.76 L468.90 205.92 L469.30 206.08 L469.70 206.24 L470.10 206.40 L470.50 206.55 L470.90 206.71 L471.30 206.86 L471.70 207.00 L472.10 207.15 L472.50 207.30 L472.90 207.44 L473.30 207.58 L473.70 207.72 L474.10 207.86 L474.50 207.99 L474.90 208.13 L475.30 208.26 L475.70 208.39 L476.10 208.52 L476.50 208.65 L476.90 208.78 L477.30 208.90 L477.70 209.02 L478.10 209.15 L478.50 209.27 L478.90 209.38 L479.30 209.50 L479.70 209.62 L480.10 209.73 L480.50 209.85 L480.90 209.96 L481.30 210.07 L481.70 210.18 L482.10 210.28 L482.50 210.39 L482.90 210.50 L483.30 210.60 L483.70 210.70 L484.10 210.80 L484.50 210.90 L484.90 211.00 L485.30 211.10 L485.70 211.20 L486.10 211.29 L486.50 211.39 L486.90 211.48 L487.30 211.57 L487.70 211.66 L488.10 211.75 L488.50 211.84 L488.90 211.93 L489.30 212.02 L489.70 212.10 L490.10 212.19 L490.50 212.27 L490.90 212.36 L491.30 212.44 L491.70 212.52 L492.10 212.60 L492.50 212.68 L492.90 212.76 L493.30 212.83 L493.70 212.91 L494.10 212.99 L494.50 213.06 L494.90 213.13 L495.30 213.21 L495.70 213.28 L496.10 213.35 L496.50 213.42 L496.90 213.49 L497.30 213.56 L497.70 213.63 L498.10 213.70 L498.50 213.76 L498.90 213.83 L499.30 213.89 L499.70 213.96 L500.10 214.02 L500.50 214.09 L500.90 214.15 L501.30 214.21 L501.70 214.27 L502.10 214.33 L502.50 214.39 L502.90 214.45 L503.30 214.51 L503.70 214.57 L504.10 214.62 L504.50 214.68 L504.90 214.74 L505.30 214.79 L505.70 214.85 L506.10 214.90 L506.50 214.95 L506.90 215.01 L507.30 215.06 L507.70 215.11 L508.10 215.16 L508.50 215.21 L508.90 215.26 L509.30 215.31 L509.70 215.36 L510.10 215.41 L510.50 215.46 L510.90 215.51 L511.30 215.55 L511.70 215.60 L512.10 215.65 L512.50 215.69 L512.90 215.74 L513.30 215.78 L513.70 215.83 L514.10 215.87 L514.50 215.91 L514.90 215.96 L515.30 216.00 L515.70 216.04 L516.10 216.08 L516.50 216.13 L516.90 216.17 L517.30 216.21 L517.70 216.25 L518.10 216.29 L518.50 216.33 L518.90 216.37 L519.30 216.40 L519.70 216.44 L520.10 216.48 L520.50 216.52 L520.90 216.55 L521.30 216.59 L521.70 216.63 L522.10 216.66 L522.50 216.70 L522.90 216.73 L523.30 216.77 L523.70 216.80 L524.10 216.84 L524.50 216.87 L524.90 216.91 L525.30 216.94 L525.70 216.97 L526.10 217.01 L526.50 217.04 L526.90 217.07 L527.30 217.10 L527.70 217.13 L528.10 217.17 L528.50 217.20 L528.90 217.23 L529.30 217.26 L529.70 217.29 L530.10 217.32 L530.50 217.35 L530.90 217.38 L531.30 217.41 L531.70 217.43 L532.10 217.46 L532.50 217.49 L532.90 217.52 L533.30 217.55 L533.70 217.58 L534.10 217.60 L534.50 217.63 L534.90 217.66 L535.30 217.68 L535.70 217.71 L536.10 217.74 L536.50 217.76 L536.90 217.79 L537.30 217.81 L537.70 217.84 L538.10 217.86 L538.50 217.89 L538.90 217.91 L539.30 217.94 L539.70 217.96 L540.10 217.99 L540.50 218.01 L540.90 218.03 L541.30 218.06 L541.70 218.08 L542.10 218.10 L542.50 218.13 L542.90 218.15 L543.30 218.17 L543.70 218.20 L544.10 218.22 L544.50 218.24 L544.90 218.26 L545.30 218.28 L545.70 218.30 L546.10 218.33 L546.50 218.35 L546.90 218.37 L547.30 218.39 L547.70 218.41 L548.10 218.43 L548.50 218.45 L548.90 218.47 L549.30 218.49 L549.70 218.51 L550.10 218.53 L550.50 218.55 L550.90 218.57 L551.30 218.59 L551.70 218.61 L552.10 218.63 L552.50 218.65 L552.90 218.66 L553.30 218.68 L553.70 218.70 L554.10 218.72 L554.50 218.74 L554.90 218.76 L555.30 218.77 L555.70 218.79 L556.10 218.81 L556.50 218.83 L556.90 218.84 L557.30 218.86 L557.70 218.88 L558.10 218.90 L558.50 218.91 L558.90 218.93 L559.30 218.95 L559.70 218.96 L560.10 218.98 L560.50 219.00 L560.90 219.01 L561.30 219.03 L561.70 219.04 L562.10 219.06 L562.50 219.08 L562.90 219.09 L563.30 219.11 L563.70 219.12 L564.10 219.14 L564.50 219.15 L564.90 219.17 L565.30 219.18 L565.70 219.20 L566.10 219.21 L566.50 219.23 L566.90 219.24 L567.30 219.26 L567.70 219.27 L568.10 219.28 L568.50 219.30 L568.90 219.31 L569.30 219.33 L569.70 219.34 L570.10 219.36 L570.50 219.37 L570.90 219.38 L571.30 219.40 L571.70 219.41 L572.10 219.42 L572.50 219.44 L572.90 219.45 L573.30 219.46 L573.70 219.48 L574.10 219.49 L574.50 219.50 L574.90 219.51 L575.30 219.53 L575.70 219.54 L576.10 219.55 L576.50 219.56 L576.90 219.58 L577.30 219.59 L577.70 219.60 L578.10 219.61 L578.50 219.63 L578.90 219.64 L579.30 219.65 L579.70 219.66 L580.10 219.67 L580.50 219.69 L580.90 219.70 L581.30 219.71 L581.70 219.72 L582.10 219.73 L582.50 219.74 L582.90 219.75 L583.30 219.76 L583.70 219.78 L584.10 219.79 L584.50 219.80 L584.90 219.81 L585.30 219.82 L585.70 219.83 L586.10 219.84 L586.50 219.85 L586.90 219.86 L587.30 219.87 L587.70 219.88 L588.10 219.89 L588.50 219.90 L588.90 219.91 L589.30 219.92 L589.70 219.93 L590.10 219.94 L590.50 219.95 L590.90 219.96 L591.30 219.97 L591.70 219.98 L592.10 219.99 L592.50 220.00 L592.90 220.01 L593.30 220.02 L593.70 220.03 L594.10 220.04 L594.50 220.05 L594.90 220.06 L595.30 220.07 L595.70 220.08 L596.10 220.09 L596.50 220.10 L596.90 220.11 L597.30 220.12 L597.70 220.12 L598.10 220.13 L598.50 220.14 L598.90 220.15 L599.30 220.16 L599.70 220.17 L600.10 220.18 L600.50 220.19 L600.90 220.19 L601.30 220.20 L601.70 220.21 L602.10 220.22 L602.50 220.23 L602.90 220.24 L603.30 220.24 L603.70 220.25 L604.10 220.26 L604.50 220.27 L604.90 220.28 L605.30 220.28 L605.70 220.29 L606.10 220.30 L606.50 220.31 L606.90 220.31 L607.30 220.32 L607.70 220.33 L608.10 220.34 L608.50 220.35 L608.90 220.35 L609.30 220.36 L609.70 220.37 L610.10 220.37 L610.50 220.38 L610.90 220.39 L611.30 220.40 L611.70 220.40 L612.10 220.41 L612.50 220.42 L612.90 220.42 L613.30 220.43 L613.70 220.44 L614.10 220.45 L614.50 220.45 L614.90 220.46 L615.30 220.47 L615.70 220.47 L616.10 220.48 L616.50 220.49 L616.90 220.49 L617.30 220.50 L617.70 220.50 L618.10 220.51 L618.50 220.52 L618.90 220.52 L619.30 220.53 L619.70 220.54 L620.10 220.54 L620.50 220.55 L620.90 220.55 L621.30 220.56 L621.70 220.57 L622.10 220.57 L622.50 220.58 L622.90 220.58 L623.30 220.59 L623.70 220.60 L624.10 220.60 L624.50 220.61 L624.90 220.61 L625.30 220.62 L625.70 220.62 L626.10 220.63 L626.50 220.64 L626.90 220.64 L627.30 220.65 L627.70 220.65 L628.10 220.66 L628.50 220.66 L628.90 220.67 L629.30 220.67 L629.70 220.68 L630.10 220.68 L630.50 220.69 L630.90 220.69 L631.30 220.70 L631.70 220.70 L632.10 220.71 L632.50 220.71 L632.90 220.72 L633.30 220.72 L633.70 220.73 L634.10 220.73 L634.50 220.74 L634.90 220.74 L635.30 220.75 L635.70 220.75 L636.10 220.75 L636.50 220.76 L636.90 220.76 L637.30 220.77 L637.70 220.77 L638.10 220.78 L638.50 220.78 L638.90 220.79 L639.30 220.79 L639.70 220.79 L640.10 220.80 L640.50 220.80 L640.90 220.81 L641.30 220.81 L641.70 220.81 L642.10 220.82 L642.50 220.82 L642.90 220.83 L643.30 220.83 L643.70 220.83 L644.10 220.84 L644.50 220.84 L644.90 220.84 L645.30 220.85 L645.70 220.85 L646.10 220.86 L646.50 220.86 L646.90 220.86 L647.30 220.87 L647.70 220.87 L648.10 220.87 L648.50 220.88 L648.90 220.88 L649.30 220.88 L649.70 220.89 L650.10 220.89 L650.50 220.89 L650.90 220.89 L651.30 220.90 L651.70 220.90 L652.10 220.90 L652.50 220.91 L652.90 220.91 L653.30 220.91 L653.70 220.92 L654.10 220.92 L654.50 220.92 L654.90 220.92 L655.30 220.93 L655.70 220.93 L656.10 220.93 L656.50 220.93 L656.90 220.94 L657.30 220.94 L657.70 220.94 L658.10 220.94 L658.50 220.95 L658.90 220.95 L659.30 220.95 L659.70 220.95 L660.10 220.96 L660.50 220.96 L660.90 220.96 L661.30 220.96 L661.70 220.96 L662.10 220.97 L662.50 220.97 L662.90 220.97 L663.30 220.97 L663.70 220.97 L664.10 220.98 L664.50 220.98 L664.90 220.98 L665.30 220.98 L665.70 220.98 L666.10 220.99 L666.50 220.99 L666.90 220.99 L667.30 220.99 L667.70 220.99 L668.10 220.99 L668.50 221.00 L668.90 221.00 L669.30 221.00 L669.70 221.00 L670.10 221.00 L670.50 221.00 L670.90 221.00 L671.05 221.00" stroke="#ff0000" stroke-dasharray="4.14 3.22" stroke-dashoffset="-0.81"/>
<path d="M390.50 182.32 L390.90 183.70 L391.30 185.05 L391.70 186.37 L392.10 187.65 L392.50 188.91 L392.90 190.14 L393.30 191.34 L393.70 192.51 L394.10 193.66 L394.50 194.78 L394.90 195.87 L395.30 196.94 L395.70 197.99 L396.10 199.01 L396.50 200.01 L396.90 200.99 L397.30 201.95 L397.70 202.89 L398.10 203.81 L398.50 204.71 L398.90 205.59 L399.30 206.45 L399.70 207.29 L400.10 208.12 L400.50 208.93 L400.90 209.72 L401.30 210.50 L401.70 211.26 L402.10 212.00 L402.50 212.74 L402.90 213.45 L403.30 214.16 L403.70 214.85 L404.10 215.52 L404.50 216.19 L404.90 216.84 L405.30 217.48 L405.70 218.10 L406.10 218.72 L406.50 219.32 L406.90 219.92 L407.30 220.50 L407.70 221.07 L408.10 221.63 L408.50 222.18 L408.90 222.72 L409.30 223.26 L409.70 223.78 L410.10 224.29 L410.50 224.80 L410.90 225.29 L411.30 225.78 L411.70 226.26 L412.10 226.73 L412.50 227.20 L412.90 227.65 L413.30 228.10 L413.70 228.54 L414.10 228.98 L414.50 229.40 L414.90 229.82 L415.30 230.24 L415.70 230.64 L416.10 231.04 L416.50 231.44 L416.90 231.83 L417.30 232.21 L417.70 232.58 L418.10 232.96 L418.50 233.32 L418.90 233.68 L419.30 234.03 L419.70 234.38 L420.10 234.72 L420.50 235.06 L420.90 235.40 L421.30 235.72 L421.70 236.05 L422.10 236.37 L422.50 236.68 L422.90 236.99 L423.30 237.30 L423.70 237.60 L424.10 237.89 L424.50 238.19 L424.90 238.48 L425.30 238.76 L425.70 239.04 L426.10 239.32 L426.50 239.59 L426.90 239.86 L427.30 240.12 L427.70 240.39 L428.10 240.64 L428.50 240.90 L428.90 241.15 L429.30 241.40 L429.70 241.64 L430.10 241.88 L430.50 242.12 L430.90 242.36 L431.30 242.59 L431.70 242.82 L432.10 243.04 L432.50 243.27 L432.90 243.49 L433.30 243.71 L433.70 243.92 L434.10 244.13 L434.50 244.34 L434.90 244.55 L435.30 244.75 L435.70 244.95 L436.10 245.15 L436.50 245.35 L436.90 245.54 L437.30 245.73 L437.70 245.92 L438.10 246.11 L438.50 246.29 L438.90 246.48 L439.30 246.66 L439.70 246.83 L440.10 247.01 L440.50 247.18 L440.90 247.35 L441.30 247.52 L441.70 247.69 L442.10 247.85 L442.50 248.02 L442.90 248.18 L443.30 248.34 L443.70 248.50 L444.10 248.65 L444.50 248.80 L444.90 248.96 L445.30 249.11 L445.70 249.25 L446.10 249.40 L446.50 249.55 L446.90 249.69 L447.30 249.83 L447.70 249.97 L448.10 250.11 L448.50 250.24 L448.90 250.38 L449.30 250.51 L449.70 250.64 L450.10 250.77 L450.50 250.90 L450.90 251.03 L451.30 251.16 L451.70 251.28 L452.10 251.40 L452.50 251.52 L452.90 251.64 L453.30 251.76 L453.70 251.88 L454.10 252.00 L454.50 252.11 L454.90 252.22 L455.30 252.34 L455.70 252.45 L456.10 252.56 L456.50 252.67 L456.90 252.77 L457.30 252.88 L457.70 252.98 L458.10 253.09 L458.50 253.19 L458.90 253.29 L459.30 253.39 L459.70 253.49 L460.10 253.59 L460.50 253.68 L460.90 253.78 L461.30 253.87 L461.70 253.97 L462.10 254.06 L462.50 254.15 L462.90 254.24 L463.30 254.33 L463.70 254.42 L464.10 254.51 L464.50 254.59 L464.90 254.68 L465.30 254.76 L465.70 254.85 L466.10 254.93 L466.50 255.01 L466.90 255.09 L467.30 255.17 L467.70 255.25 L468.10 255.33 L468.50 255.41 L468.90 255.48 L469.30 255.56 L469.70 255.63 L470.10 255.71 L470.50 255.78 L470.90 255.85 L471.30 255.92 L471.70 256.00 L472.10 256.07 L472.50 256.14 L472.90 256.20 L473.30 256.27 L473.70 256.34 L474.10 256.41 L474.50 256.47 L474.90 256.54 L475.30 256.60 L475.70 256.66 L476.10 256.73 L476.50 256.79 L476.90 256.85 L477.30 256.91 L477.70 256.97 L478.10 257.03 L478.50 257.09 L478.90 257.15 L479.30 257.20 L479.70 257.26 L480.10 257.32 L480.50 257.37 L480.90 257.43 L481.30 257.48 L481.70 257.54 L482.10 257.59 L482.50 257.64 L482.90 257.70 L483.30 257.75 L483.70 257.80 L484.10 257.85 L484.50 257.90 L484.90 257.95 L485.30 258.00 L485.70 258.05 L486.10 258.09 L486.50 258.14 L486.90 258.19 L487.30 258.24 L487.70 258.28 L488.10 258.33 L488.50 258.37 L488.90 258.42 L489.30 258.46 L489.70 258.50 L490.10 258.55 L490.50 258.59 L490.90 258.63 L491.30 258.67 L491.70 258.72 L492.10 258.76 L492.50 258.80 L492.90 258.84 L493.30 258.88 L493.70 258.92 L494.10 258.95 L494.50 258.99 L494.90 259.03 L495.30 259.07 L495.70 259.11 L496.10 259.14 L496.50 259.18 L496.90 259.22 L497.30 259.25 L497.70 259.29 L498.10 259.32 L498.50 259.36 L498.90 259.39 L499.30 259.42 L499.70 259.46 L500.10 259.49 L500.50 259.52 L500.90 259.56 L501.30 259.59 L501.70 259.62 L502.10 259.65 L502.50 259.68 L502.90 259.71 L503.30 259.74 L503.70 259.77 L504.10 259.80 L504.50 259.83 L504.90 259.86 L505.30 259.89 L505.70 259.92 L506.10 259.95 L506.50 259.98 L506.90 260.00 L507.30 260.03 L507.70 260.06 L508.10 260.09 L508.50 260.11 L508.90 260.14 L509.30 260.17 L509.70 260.19 L510.10 260.22 L510.50 260.24 L510.90 260.27 L511.30 260.29 L511.70 260.32 L512.10 260.34 L512.50 260.37 L512.90 260.39 L513.30 260.41 L513.70 260.44 L514.10 260.46 L514.50 260.48 L514.90 260.50 L515.30 260.53 L515.70 260.55 L516.10 260.57 L516.50 260.59 L516.90 260.61 L517.30 260.64 L517.70 260.66 L518.10 260.68 L518.50 260.70 L518.90 260.72 L519.30 260.74 L519.70 260.76 L520.10 260.78 L520.50 260.80 L520.90 260.82 L521.30 260.84 L521.70 260.86 L522.10 260.88 L522.50 260.90 L522.90 260.91 L523.30 260.93 L523.70 260.95 L524.10 260.97 L524.50 260.99 L524.90 261.00 L525.30 261.02 L525.70 261.04 L526.10 261.06 L526.50 261.07 L526.90 261.09 L527.30 261.11 L527.70 261.12 L528.10 261.14 L528.50 261.16 L528.90 261.17 L529.30 261.19 L529.70 261.20 L530.10 261.22 L530.50 261.24 L530.90 261.25 L531.30 261.27 L531.70 261.28 L532.10 261.30 L532.50 261.31 L532.90 261.33 L533.30 261.34 L533.70 261.35 L534.10 261.37 L534.50 261.38 L534.90 261.40 L535.30 261.41 L535.70 261.42 L536.10 261.44 L536.50 261.45 L536.90 261.46 L537.30 261.48 L537.70 261.49 L538.10 261.50 L538.50 261.52 L538.90 261.53 L539.30 261.54 L539.70 261.55 L540.10 261.57 L540.50 261.58 L540.90 261.59 L541.30 261.60 L541.70 261.61 L542.10 261.63 L542.50 261.64 L542.90 261.65 L543.30 261.66 L543.70 261.67 L544.10 261.68 L544.50 261.70 L544.90 261.71 L545.30 261.72 L545.70 261.73 L546.10 261.74 L546.50 261.75 L546.90 261.76 L547.30 261.77 L547.70 261.78 L548.10 261.79 L548.50 261.80 L548.90 261.81 L549.30 261.82 L549.70 261.83 L550.10 261.84 L550.50 261.85 L550.90 261.86 L551.30 261.87 L551.70 261.88 L552.10 261.89 L552.50 261.90 L552.90 261.91 L553.30 261.92 L553.70 261.93 L554.10 261.94 L554.50 261.95 L554.90 261.95 L555.30 261.96 L555.70 261.97 L556.10 261.98 L556.50 261.99 L556.90 262.00 L557.30 262.01 L557.70 262.01 L558.10 262.02 L558.50 262.03 L558.90 262.04 L559.30 262.05 L559.70 262.06 L560.10 262.06 L560.50 262.07 L560.90 262.08 L561.30 262.09 L561.70 262.10 L562.10 262.10 L562.50 262.11 L562.90 262.12 L563.30 262.13 L563.70 262.13 L564.10 262.14 L564.50 262.15 L564.90 262.16 L565.30 262.16 L565.70 262.17 L566.10 262.18 L566.50 262.18 L566.90 262.19 L567.30 262.20 L567.70 262.21 L568.10 262.21 L568.50 262.22 L568.90 262.23 L569.30 262.23 L569.70 262.24 L570.10 262.25 L570.50 262.25 L570.90 262.26 L571.30 262.27 L571.70 262.27 L572.10 262.28 L572.50 262.28 L572.90 262.29 L573.30 262.30 L573.70 262.30 L574.10 262.31 L574.50 262.32 L574.90 262.32 L575.30 262.33 L575.70 262.33 L576.10 262.34 L576.50 262.35 L576.90 262.35 L577.30 262.36 L577.70 262.36 L578.10 262.37 L578.50 262.37 L578.90 262.38 L579.30 262.39 L579.70 262.39 L580.10 262.40 L580.50 262.40 L580.90 262.41 L581.30 262.41 L581.70 262.42 L582.10 262.42 L582.50 262.43 L582.90 262.43 L583.30 262.44 L583.70 262.44 L584.10 262.45 L584.50 262.46 L584.90 262.46 L585.30 262.47 L585.70 262.47 L586.10 262.48 L586.50 262.48 L586.90 262.49 L587.30 262.49 L587.70 262.50 L588.10 262.50 L588.50 262.50 L588.90 262.51 L589.30 262.51 L589.70 262.52 L590.10 262.52 L590.50 262.53 L590.90 262.53 L591.30 262.54 L591.70 262.54 L592.10 262.55 L592.50 262.55 L592.90 262.56 L593.30 262.56 L593.70 262.57 L594.10 262.57 L594.50 262.57 L594.90 262.58 L595.30 262.58 L595.70 262.59 L596.10 262.59 L596.50 262.60 L596.90 262.60 L597.30 262.60 L597.70 262.61 L598.10 262.61 L598.50 262.62 L598.90 262.62 L599.30 262.63 L599.70 262.63 L600.10 262.63 L600.50 262.64 L600.90 262.64 L601.30 262.65 L601.70 262.65 L602.10 262.65 L602.50 262.66 L602.90 262.66 L603.30 262.67 L603.70 262.67 L604.10 262.67 L604.50 262.68 L604.90 262.68 L605.30 262.69 L605.70 262.69 L606.10 262.69 L606.50 262.70 L606.90 262.70 L607.30 262.70 L607.70 262.71 L608.10 262.71 L608.50 262.72 L608.90 262.72 L609.30 262.72 L609.70 262.73 L610.10 262.73 L610.50 262.73 L610.90 262.74 L611.30 262.74 L611.70 262.75 L612.10 262.75 L612.50 262.75 L612.90 262.76 L613.30 262.76 L613.70 262.76 L614.10 262.77 L614.50 262.77 L614.90 262.77 L615.30 262.78 L615.70 262.78 L616.10 262.78 L616.50 262.79 L616.90 262.79 L617.30 262.79 L617.70 262.80 L618.10 262.80 L618.50 262.80 L618.90 262.81 L619.30 262.81 L619.70 262.81 L620.10 262.82 L620.50 262.82 L620.90 262.82 L621.30 262.83 L621.70 262.83 L622.10 262.83 L622.50 262.84 L622.90 262.84 L623.30 262.84 L623.70 262.85 L624.10 262.85 L624.50 262.85 L624.90 262.86 L625.30 262.86 L625.70 262.86 L626.10 262.87 L626.50 262.87 L626.90 262.87 L627.30 262.87 L627.70 262.88 L628.10 262.88 L628.50 262.88 L628.90 262.89 L629.30 262.89 L629.70 262.89 L630.10 262.90 L630.50 262.90 L630.90 262.90 L631.30 262.91 L631.70 262.91 L632.10 262.91 L632.50 262.91 L632.90 262.92 L633.30 262.92 L633.70 262.92 L634.10 262.93 L634.50 262.93 L634.90 262.93 L635.30 262.93 L635.70 262.94 L636.10 262.94 L636.50 262.94 L636.90 262.95 L637.30 262.95 L637.70 262.95 L638.10 262.96 L638.50 262.96 L638.90 262.96 L639.30 262.96 L639.70 262.97 L640.10 262.97 L640.50 262.97 L640.90 262.98 L641.30 262.98 L641.70 262.98 L642.10 262.98 L642.50 262.99 L642.90 262.99 L643.30 262.99 L643.70 262.99 L644.10 263.00 L644.50 263.00 L644.90 263.00 L645.30 263.01 L645.70 263.01 L646.10 263.01 L646.50 263.01 L646.90 263.02 L647.30 263.02 L647.70 263.02 L648.10 263.02 L648.50 263.03 L648.90 263.03 L649.30 263.03 L649.70 263.04 L650.10 263.04 L650.50 263.04 L650.90 263.04 L651.30 263.05 L651.70 263.05 L652.10 263.05 L652.50 263.05 L652.90 263.06 L653.30 263.06 L653.70 263.06 L654.10 263.06 L654.50 263.07 L654.90 263.07 L655.30 263.07 L655.70 263.08 L656.10 263.08 L656.50 263.08 L656.90 263.08 L657.30 263.09 L657.70 263.09 L658.10 263.09 L658.50 263.09 L658.90 263.10 L659.30 263.10 L659.70 263.10 L660.10 263.10 L660.50 263.11 L660.90 263.11 L661.30 263.11 L661.70 263.11 L662.10 263.12 L662.50 263.12 L662.90 263.12 L663.30 263.12 L663.70 263.13 L664.10 263.13 L664.50 263.13 L664.90 263.13 L665.30 263.14 L665.70 263.14 L666.10 263.14 L666.50 263.14 L666.90 263.15 L667.30 263.15 L667.70 263.15 L668.10 263.15 L668.50 263.16 L668.90 263.16 L669.30 263.16 L669.70 263.16 L670.10 263.17 L670.50 263.17 L670.90 263.17 L671.05 263.17" stroke="#0000ff"/>
<path d="M390.50 165.32 L390.90 166.67 L391.30 168.00 L391.70 169.31 L392.10 170.59 L392.50 171.84 L392.90 173.07 L393.30 174.27 L393.70 175.46 L394.10 176.62 L394.50 177.76 L394.90 178.88 L395.30 179.97 L395.70 181.05 L396.10 182.11 L396.50 183.15 L396.90 184.17 L397.30 185.17 L397.70 186.15 L398.10 187.12 L398.50 188.07 L398.90 189.00 L399.30 189.92 L399.70 190.82 L400.10 191.71 L400.50 192.58 L400.90 193.43 L401.30 194.27 L401.70 195.10 L402.10 195.91 L402.50 196.71 L402.90 197.50 L403.30 198.27 L403.70 199.04 L404.10 199.79 L404.50 200.52 L404.90 201.25 L405.30 201.96 L405.70 202.66 L406.10 203.35 L406.50 204.03 L406.90 204.70 L407.30 205.36 L407.70 206.01 L408.10 206.65 L408.50 207.28 L408.90 207.90 L409.30 208.51 L409.70 209.11 L410.10 209.70 L410.50 210.28 L410.90 210.86 L411.30 211.42 L411.70 211.98 L412.10 212.53 L412.50 213.07 L412.90 213.60 L413.30 214.13 L413.70 214.64 L414.10 215.15 L414.50 215.66 L414.90 216.15 L415.30 216.64 L415.70 217.12 L416.10 217.59 L416.50 218.06 L416.90 218.52 L417.30 218.98 L417.70 219.43 L418.10 219.87 L418.50 220.30 L418.90 220.73 L419.30 221.15 L419.70 221.57 L420.10 221.98 L420.50 222.39 L420.90 222.79 L421.30 223.18 L421.70 223.57 L422.10 223.96 L422.50 224.34 L422.90 224.71 L423.30 225.08 L423.70 225.44 L424.10 225.80 L424.50 226.16 L424.90 226.50 L425.30 226.85 L425.70 227.19 L426.10 227.52 L426.50 227.85 L426.90 228.18 L427.30 228.50 L427.70 228.82 L428.10 229.13 L428.50 229.44 L428.90 229.75 L429.30 230.05 L429.70 230.35 L430.10 230.64 L430.50 230.93 L430.90 231.22 L431.30 231.50 L431.70 231.78 L432.10 232.05 L432.50 232.32 L432.90 232.59 L433.30 232.85 L433.70 233.12 L434.10 233.37 L434.50 233.63 L434.90 233.88 L435.30 234.12 L435.70 234.37 L436.10 234.61 L436.50 234.85 L436.90 235.08 L437.30 235.32 L437.70 235.54 L438.10 235.77 L438.50 235.99 L438.90 236.21 L439.30 236.43 L439.70 236.65 L440.10 236.86 L440.50 237.07 L440.90 237.28 L441.30 237.48 L441.70 237.68 L442.10 237.88 L442.50 238.08 L442.90 238.27 L443.30 238.46 L443.70 238.65 L444.10 238.84 L444.50 239.02 L444.90 239.20 L445.30 239.38 L445.70 239.56 L446.10 239.74 L446.50 239.91 L446.90 240.08 L447.30 240.25 L447.70 240.42 L448.10 240.58 L448.50 240.74 L448.90 240.90 L449.30 241.06 L449.70 241.22 L450.10 241.37 L450.50 241.53 L450.90 241.68 L451.30 241.83 L451.70 241.97 L452.10 242.12 L452.50 242.26 L452.90 242.40 L453.30 242.54 L453.70 242.68 L454.10 242.82 L454.50 242.95 L454.90 243.09 L455.30 243.22 L455.70 243.35 L456.10 243.48 L456.50 243.60 L456.90 243.73 L457.30 243.85 L457.70 243.97 L458.10 244.10 L458.50 244.21 L458.90 244.33 L459.30 244.45 L459.70 244.56 L460.10 244.68 L460.50 244.79 L460.90 244.90 L461.30 245.01 L461.70 245.12 L462.10 245.22 L462.50 245.33 L462.90 245.43 L463.30 245.54 L463.70 245.64 L464.10 245.74 L464.50 245.84 L464.90 245.93 L465.30 246.03 L465.70 246.13 L466.10 246.22 L466.50 246.31 L466.90 246.41 L467.30 246.50 L467.70 246.59 L468.10 246.68 L468.50 246.76 L468.90 246.85 L469.30 246.94 L469.70 247.02 L470.10 247.10 L470.50 247.19 L470.90 247.27 L471.30 247.35 L471.70 247.43 L472.10 247.51 L472.50 247.58 L472.90 247.66 L473.30 247.74 L473.70 247.81 L474.10 247.89 L474.50 247.96 L474.90 248.03 L475.30 248.10 L475.70 248.17 L476.10 248.24 L476.50 248.31 L476.90 248.38 L477.30 248.45 L477.70 248.51 L478.10 248.58 L478.50 248.64 L478.90 248.71 L479.30 248.77 L479.70 248.83 L480.10 248.90 L480.50 248.96 L480.90 249.02 L481.30 249.08 L481.70 249.14 L482.10 249.19 L482.50 249.25 L482.90 249.31 L483.30 249.36 L483.70 249.42 L484.10 249.47 L484.50 249.53 L484.90 249.58 L485.30 249.64 L485.70 249.69 L486.10 249.74 L486.50 249.79 L486.90 249.84 L487.30 249.89 L487.70 249.94 L488.10 249.99 L488.50 250.04 L488.90 250.08 L489.30 250.13 L489.70 250.18 L490.10 250.22 L490.50 250.27 L490.90 250.31 L491.30 250.36 L491.70 250.40 L492.10 250.45 L492.50 250.49 L492.90 250.53 L493.30 250.57 L493.70 250.61 L494.10 250.66 L494.50 250.70 L494.90 250.74 L495.30 250.78 L495.70 250.81 L496.10 250.85 L496.50 250.89 L496.90 250.93 L497.30 250.97 L497.70 251.00 L498.10 251.04 L498.50 251.08 L498.90 251.11 L499.30 251.15 L499.70 251.18 L500.10 251.22 L500.50 251.25 L500.90 251.28 L501.30 251.32 L501.70 251.35 L502.10 251.38 L502.50 251.41 L502.90 251.45 L503.30 251.48 L503.70 251.51 L504.10 251.54 L504.50 251.57 L504.90 251.60 L505.30 251.63 L505.70 251.66 L506.10 251.69 L506.50 251.72 L506.90 251.74 L507.30 251.77 L507.70 251.80 L508.10 251.83 L508.50 251.86 L508.90 251.88 L509.30 251.91 L509.70 251.94 L510.10 251.96 L510.50 251.99 L510.90 252.01 L511.30 252.04 L511.70 252.06 L512.10 252.09 L512.50 252.11 L512.90 252.14 L513.30 252.16 L513.70 252.18 L514.10 252.21 L514.50 252.23 L514.90 252.25 L515.30 252.27 L515.70 252.30 L516.10 252.32 L516.50 252.34 L516.90 252.36 L517.30 252.38 L517.70 252.40 L518.10 252.43 L518.50 252.45 L518.90 252.47 L519.30 252.49 L519.70 252.51 L520.10 252.53 L520.50 252.55 L520.90 252.57 L521.30 252.58 L521.70 252.60 L522.10 252.62 L522.50 252.64 L522.90 252.66 L523.30 252.68 L523.70 252.70 L524.10 252.71 L524.50 252.73 L524.90 252.75 L525.30 252.77 L525.70 252.78 L526.10 252.80 L526.50 252.82 L526.90 252.83 L527.30 252.85 L527.70 252.87 L528.10 252.88 L528.50 252.90 L528.90 252.91 L529.30 252.93 L529.70 252.95 L530.10 252.96 L530.50 252.98 L530.90 252.99 L531.30 253.01 L531.70 253.02 L532.10 253.03 L532.50 253.05 L532.90 253.06 L533.30 253.08 L533.70 253.09 L534.10 253.11 L534.50 253.12 L534.90 253.13 L535.30 253.15 L535.70 253.16 L536.10 253.17 L536.50 253.19 L536.90 253.20 L537.30 253.21 L537.70 253.22 L538.10 253.24 L538.50 253.25 L538.90 253.26 L539.30 253.27 L539.70 253.29 L540.10 253.30 L540.50 253.31 L540.90 253.32 L541.30 253.33 L541.70 253.35 L542.10 253.36 L542.50 253.37 L542.90 253.38 L543.30 253.39 L543.70 253.40 L544.10 253.41 L544.50 253.42 L544.90 253.43 L545.30 253.44 L545.70 253.46 L546.10 253.47 L546.50 253.48 L546.90 253.49 L547.30 253.50 L547.70 253.51 L548.10 253.52 L548.50 253.53 L548.90 253.54 L549.30 253.55 L549.70 253.56 L550.10 253.57 L550.50 253.58 L550.90 253.58 L551.30 253.59 L551.70 253.60 L552.10 253.61 L552.50 253.62 L552.90 253.63 L553.30 253.64 L553.70 253.65 L554.10 253.66 L554.50 253.67 L554.90 253.68 L555.30 253.68 L555.70 253.69 L556.10 253.70 L556.50 253.71 L556.90 253.72 L557.30 253.73 L557.70 253.73 L558.10 253.74 L558.50 253.75 L558.90 253.76 L559.30 253.77 L559.70 253.77 L560.10 253.78 L560.50 253.79 L560.90 253.80 L561.30 253.81 L561.70 253.81 L562.10 253.82 L562.50 253.83 L562.90 253.84 L563.30 253.84 L563.70 253.85 L564.10 253.86 L564.50 253.86 L564.90 253.87 L565.30 253.88 L565.70 253.89 L566.10 253.89 L566.50 253.90 L566.90 253.91 L567.30 253.91 L567.70 253.92 L568.10 253.93 L568.50 253.93 L568.90 253.94 L569.30 253.95 L569.70 253.95 L570.10 253.96 L570.50 253.97 L570.90 253.97 L571.30 253.98 L571.70 253.99 L572.10 253.99 L572.50 254.00 L572.90 254.01 L573.30 254.01 L573.70 254.02 L574.10 254.02 L574.50 254.03 L574.90 254.04 L575.30 254.04 L575.70 254.05 L576.10 254.05 L576.50 254.06 L576.90 254.07 L577.30 254.07 L577.70 254.08 L578.10 254.08 L578.50 254.09 L578.90 254.10 L579.30 254.10 L579.70 254.11 L580.10 254.11 L580.50 254.12 L580.90 254.12 L581.30 254.13 L581.70 254.13 L582.10 254.14 L582.50 254.15 L582.90 254.15 L583.30 254.16 L583.70 254.16 L584.10 254.17 L584.50 254.17 L584.90 254.18 L585.30 254.18 L585.70 254.19 L586.10 254.19 L586.50 254.20 L586.90 254.20 L587.30 254.21 L587.70 254.21 L588.10 254.22 L588.50 254.22 L588.90 254.23 L589.30 254.23 L589.70 254.24 L590.10 254.24 L590.50 254.25 L590.90 254.25 L591.30 254.26 L591.70 254.26 L592.10 254.27 L592.50 254.27 L592.90 254.28 L593.30 254.28 L593.70 254.29 L594.10 254.29 L594.50 254.30 L594.90 254.30 L595.30 254.31 L595.70 254.31 L596.10 254.31 L596.50 254.32 L596.90 254.32 L597.30 254.33 L597.70 254.33 L598.10 254.34 L598.50 254.34 L598.90 254.35 L599.30 254.35 L599.70 254.36 L600.10 254.36 L600.50 254.36 L600.90 254.37 L601.30 254.37 L601.70 254.38 L602.10 254.38 L602.50 254.39 L602.90 254.39 L603.30 254.40 L603.70 254.40 L604.10 254.40 L604.50 254.41 L604.90 254.41 L605.30 254.42 L605.70 254.42 L606.10 254.42 L606.50 254.43 L606.90 254.43 L607.30 254.44 L607.70 254.44 L608.10 254.45 L608.50 254.45 L608.90 254.45 L609.30 254.46 L609.70 254.46 L610.10 254.47 L610.50 254.47 L610.90 254.47 L611.30 254.48 L611.70 254.48 L612.10 254.49 L612.50 254.49 L612.90 254.49 L613.30 254.50 L613.70 254.50 L614.10 254.51 L614.50 254.51 L614.90 254.51 L615.30 254.52 L615.70 254.52 L616.10 254.53 L616.50 254.53 L616.90 254.53 L617.30 254.54 L617.70 254.54 L618.10 254.55 L618.50 254.55 L618.90 254.55 L619.30 254.56 L619.70 254.56 L620.10 254.56 L620.50 254.57 L620.90 254.57 L621.30 254.58 L621.70 254.58 L622.10 254.58 L622.50 254.59 L622.90 254.59 L623.30 254.59 L623.70 254.60 L624.10 254.60 L624.50 254.61 L624.90 254.61 L625.30 254.61 L625.70 254.62 L626.10 254.62 L626.50 254.62 L626.90 254.63 L627.30 254.63 L627.70 254.63 L628.10 254.64 L628.50 254.64 L628.90 254.65 L629.30 254.65 L629.70 254.65 L630.10 254.66 L630.50 254.66 L630.90 254.66 L631.30 254.67 L631.70 254.67 L632.10 254.67 L632.50 254.68 L632.90 254.68 L633.30 254.69 L633.70 254.69 L634.10 254.69 L634.50 254.70 L634.90 254.70 L635.30 254.70 L635.70 254.71 L636.10 254.71 L636.50 254.71 L636.90 254.72 L637.30 254.72 L637.70 254.72 L638.10 254.73 L638.50 254.73 L638.90 254.73 L639.30 254.74 L639.70 254.74 L640.10 254.74 L640.50 254.75 L640.90 254.75 L641.30 254.76 L641.70 254.76 L642.10 254.76 L642.50 254.77 L642.90 254.77 L643.30 254.77 L643.70 254.78 L644.10 254.78 L644.50 254.78 L644.90 254.79 L645.30 254.79 L645.70 254.79 L646.10 254.80 L646.50 254.80 L646.90 254.80 L647.30 254.81 L647.70 254.81 L648.10 254.81 L648.50 254.82 L648.90 254.82 L649.30 254.82 L649.70 254.83 L650.10 254.83 L650.50 254.83 L650.90 254.84 L651.30 254.84 L651.70 254.84 L652.10 254.85 L652.50 254.85 L652.90 254.85 L653.30 254.86 L653.70 254.86 L654.10 254.86 L654.50 254.87 L654.90 254.87 L655.30 254.87 L655.70 254.88 L656.10 254.88 L656.50 254.88 L656.90 254.89 L657.30 254.89 L657.70 254.89 L658.10 254.90 L658.50 254.90 L658.90 254.90 L659.30 254.91 L659.70 254.91 L660.10 254.91 L660.50 254.92 L660.90 254.92 L661.30 254.92 L661.70 254.93 L662.10 254.93 L662.50 254.93 L662.90 254.94 L663.30 254.94 L663.70 254.94 L664.10 254.95 L664.50 254.95 L664.90 254.95 L665.30 254.96 L665.70 254.96 L666.10 254.96 L666.50 254.97 L666.90 254.97 L667.30 254.97 L667.70 254.97 L668.10 254.98 L668.50 254.98 L668.90 254.98 L669.30 254.99 L669.70 254.99 L670.10 254.99 L670.50 255.00 L670.90 255.00 L671.05 255.00" stroke="#0000ff" stroke-dasharray="4.14 3.22" stroke-dashoffset="2.83"/>
</g>
<line x1="66.30" y1="6.60" x2="66.30" y2="286.40" stroke="#555" stroke-opacity="0.6" stroke-width="1.3"/>
<line x1="430.60" y1="6.60" x2="430.60" y2="286.40" stroke="#555" stroke-opacity="0.6" stroke-width="1.3"/>
<path d="M32.66 286.70 V284.70 M32.66 6.70 V8.70 M44.58 286.70 V284.70 M44.58 6.70 V8.70 M56.49 286.70 V284.70 M56.49 6.70 V8.70 M68.41 286.70 V283.00 M68.41 6.70 V10.40 M80.33 286.70 V284.70 M80.33 6.70 V8.70 M92.24 286.70 V284.70 M92.24 6.70 V8.70 M104.16 286.70 V284.70 M104.16 6.70 V8.70 M116.07 286.70 V283.00 M116.07 6.70 V10.40 M127.98 286.70 V284.70 M127.98 6.70 V8.70 M139.90 286.70 V284.70 M139.90 6.70 V8.70 M151.81 286.70 V284.70 M151.81 6.70 V8.70 M163.73 286.70 V283.00 M163.73 6.70 V10.40 M175.65 286.70 V284.70 M175.65 6.70 V8.70 M187.56 286.70 V284.70 M187.56 6.70 V8.70 M199.47 286.70 V284.70 M199.47 6.70 V8.70 M211.39 286.70 V283.00 M211.39 6.70 V10.40 M223.31 286.70 V284.70 M223.31 6.70 V8.70 M235.22 286.70 V284.70 M235.22 6.70 V8.70 M247.13 286.70 V284.70 M247.13 6.70 V8.70 M259.05 286.70 V283.00 M259.05 6.70 V10.40 M270.97 286.70 V284.70 M270.97 6.70 V8.70 M282.88 286.70 V284.70 M282.88 6.70 V8.70 M294.80 286.70 V284.70 M294.80 6.70 V8.70 M26.45 217.00 H30.15 M306.55 217.00 H302.85 M26.45 147.00 H30.15 M306.55 147.00 H302.85 M26.45 77.00 H30.15 M306.55 77.00 H302.85 M26.45 269.50 H28.45 M306.55 269.50 H304.55 M26.45 252.00 H28.45 M306.55 252.00 H304.55 M26.45 234.50 H28.45 M306.55 234.50 H304.55 M26.45 199.50 H28.45 M306.55 199.50 H304.55 M26.45 182.00 H28.45 M306.55 182.00 H304.55 M26.45 164.50 H28.45 M306.55 164.50 H304.55 M26.45 129.50 H28.45 M306.55 129.50 H304.55 M26.45 112.00 H28.45 M306.55 112.00 H304.55 M26.45 94.50 H28.45 M306.55 94.50 H304.55 M26.45 59.50 H28.45 M306.55 59.50 H304.55 M26.45 42.00 H28.45 M306.55 42.00 H304.55 M26.45 24.50 H28.45 M306.55 24.50 H304.55" stroke="#555" stroke-width="1" fill="none"/>
<path d="M26.45 6.70 H306.55 M26.45 286.70 H306.55 M26.45 6.70 V286.70 M306.55 6.70 V286.70" stroke="#555" stroke-width="1.15" fill="none" stroke-linecap="square"/>
<path d="M397.27 286.70 V284.70 M397.27 6.70 V8.70 M409.18 286.70 V284.70 M409.18 6.70 V8.70 M421.10 286.70 V284.70 M421.10 6.70 V8.70 M433.01 286.70 V283.00 M433.01 6.70 V10.40 M444.93 286.70 V284.70 M444.93 6.70 V8.70 M456.84 286.70 V284.70 M456.84 6.70 V8.70 M468.75 286.70 V284.70 M468.75 6.70 V8.70 M480.67 286.70 V283.00 M480.67 6.70 V10.40 M492.59 286.70 V284.70 M492.59 6.70 V8.70 M504.50 286.70 V284.70 M504.50 6.70 V8.70 M516.41 286.70 V284.70 M516.41 6.70 V8.70 M528.33 286.70 V283.00 M528.33 6.70 V10.40 M540.25 286.70 V284.70 M540.25 6.70 V8.70 M552.16 286.70 V284.70 M552.16 6.70 V8.70 M564.08 286.70 V284.70 M564.08 6.70 V8.70 M575.99 286.70 V283.00 M575.99 6.70 V10.40 M587.90 286.70 V284.70 M587.90 6.70 V8.70 M599.82 286.70 V284.70 M599.82 6.70 V8.70 M611.74 286.70 V284.70 M611.74 6.70 V8.70 M623.65 286.70 V283.00 M623.65 6.70 V10.40 M635.57 286.70 V284.70 M635.57 6.70 V8.70 M647.48 286.70 V284.70 M647.48 6.70 V8.70 M659.39 286.70 V284.70 M659.39 6.70 V8.70 M390.50 231.00 H394.20 M671.05 231.00 H667.35 M390.50 175.00 H394.20 M671.05 175.00 H667.35 M390.50 119.00 H394.20 M671.05 119.00 H667.35 M390.50 63.00 H394.20 M671.05 63.00 H667.35 M390.50 273.00 H392.50 M671.05 273.00 H669.05 M390.50 259.00 H392.50 M671.05 259.00 H669.05 M390.50 245.00 H392.50 M671.05 245.00 H669.05 M390.50 217.00 H392.50 M671.05 217.00 H669.05 M390.50 203.00 H392.50 M671.05 203.00 H669.05 M390.50 189.00 H392.50 M671.05 189.00 H669.05 M390.50 161.00 H392.50 M671.05 161.00 H669.05 M390.50 147.00 H392.50 M671.05 147.00 H669.05 M390.50 133.00 H392.50 M671.05 133.00 H669.05 M390.50 105.00 H392.50 M671.05 105.00 H669.05 M390.50 91.00 H392.50 M671.05 91.00 H669.05 M390.50 77.00 H392.50 M671.05 77.00 H669.05 M390.50 49.00 H392.50 M671.05 49.00 H669.05 M390.50 35.00 H392.50 M671.05 35.00 H669.05 M390.50 21.00 H392.50 M671.05 21.00 H669.05" stroke="#555" stroke-width="1" fill="none"/>
<path d="M390.50 6.70 H671.05 M390.50 286.70 H671.05 M390.50 6.70 V286.70 M671.05 6.70 V286.70" stroke="#555" stroke-width="1.15" fill="none" stroke-linecap="square"/>
<text x="23.2" y="293.30" text-anchor="end" class="t">0.2</text>
<text x="23.2" y="223.30" text-anchor="end" class="t">0.4</text>
<text x="23.2" y="153.30" text-anchor="end" class="t">0.6</text>
<text x="23.2" y="83.30" text-anchor="end" class="t">0.8</text>
<text x="23.2" y="13.30" text-anchor="end" class="t">1.0</text>
<text x="387.5" y="293.30" text-anchor="end" class="t">0.0</text>
<text x="387.5" y="237.30" text-anchor="end" class="t">0.2</text>
<text x="387.5" y="181.30" text-anchor="end" class="t">0.4</text>
<text x="387.5" y="125.30" text-anchor="end" class="t">0.6</text>
<text x="387.5" y="69.30" text-anchor="end" class="t">0.8</text>
<text x="387.5" y="13.30" text-anchor="end" class="t">1.0</text>
<text x="68.81" y="305.8" text-anchor="middle" class="t">20</text>
<text x="433.41" y="305.8" text-anchor="middle" class="t">20</text>
<text x="116.47" y="305.8" text-anchor="middle" class="t">40</text>
<text x="481.07" y="305.8" text-anchor="middle" class="t">40</text>
<text x="164.13" y="305.8" text-anchor="middle" class="t">60</text>
<text x="528.73" y="305.8" text-anchor="middle" class="t">60</text>
<text x="211.79" y="305.8" text-anchor="middle" class="t">80</text>
<text x="576.39" y="305.8" text-anchor="middle" class="t">80</text>
<text x="259.45" y="305.8" text-anchor="middle" class="t">100</text>
<text x="624.05" y="305.8" text-anchor="middle" class="t">100</text>
<text x="307.11" y="305.8" text-anchor="middle" class="t">120</text>
<text x="671.71" y="305.8" text-anchor="middle" class="t">120</text>
<text x="106.50" y="334" class="xl">Log<tspan font-size="14.2" dy="6">10</tspan><tspan dy="-6" dx="1.3">[</tspan><tspan font-style="italic">&#956;</tspan>/GeV]</text>
<text x="471.80" y="334" class="xl">Log<tspan font-size="14.2" dy="6">10</tspan><tspan dy="-6" dx="1.3">[</tspan><tspan font-style="italic">&#956;</tspan>/GeV]</text>
<text x="160.3" y="367.9" text-anchor="middle" class="cap">(a)</text>
<text x="524.8" y="367.9" text-anchor="middle" class="cap">(b)</text>
<text transform="translate(72.00 47.60) scale(1.120 1)" font-size="18.40" font-style="italic" font-weight="normal" fill="#808080">M</text>
<text transform="translate(88.50 50.80) scale(1.120 1)" font-size="11.60" font-style="normal" font-weight="normal" fill="#808080">PL</text>
<text transform="translate(436.40 40.70) scale(1.120 1)" font-size="18.40" font-style="italic" font-weight="normal" fill="#808080">M</text>
<text transform="translate(452.90 43.90) scale(1.120 1)" font-size="11.60" font-style="normal" font-weight="normal" fill="#808080">PL</text>
<text transform="translate(169.70 158.00) scale(0.920 1)" font-size="19.70" font-style="italic" font-weight="normal" fill="#0000ff" stroke="#0000ff" stroke-width="0.25">y</text>
<text transform="translate(176.25 160.60) scale(1.090 1)" font-size="15.50" font-style="italic" font-weight="normal" fill="#0000ff" stroke="#0000ff" stroke-width="0.25">&#957;</text>
<text transform="translate(107.70 214.00) scale(0.910 1)" font-size="19.80" font-style="italic" font-weight="normal" fill="#00aa00" stroke="#00aa00" stroke-width="0.25">y</text>
<text transform="translate(115.40 216.90) scale(1.060 1)" font-size="13.40" font-style="italic" font-weight="normal" fill="#00aa00" stroke="#00aa00" stroke-width="0.25">N</text>
<text transform="translate(241.20 245.80) scale(0.970 1)" font-size="19.30" font-style="italic" font-weight="bold" fill="#ff0000">y</text>
<text transform="translate(249.60 248.60) scale(1.130 1)" font-size="13.80" font-style="italic" font-weight="bold" fill="#ff0000">t</text>
<text transform="translate(605.60 208.90) scale(0.970 1)" font-size="19.30" font-style="italic" font-weight="bold" fill="#ff0000">y</text>
<text transform="translate(613.70 212.10) scale(1.130 1)" font-size="13.80" font-style="italic" font-weight="bold" fill="#ff0000">t</text>
<text transform="translate(540.70 241.20) scale(0.900 1)" font-size="19.70" font-style="italic" font-weight="normal" fill="#0000ff" stroke="#0000ff" stroke-width="0.25">y</text>
<text transform="translate(548.10 244.40) scale(0.860 1)" font-size="13.90" font-style="normal" font-weight="normal" fill="#0000ff" stroke="#0000ff" stroke-width="0.25">L</text>
<text transform="translate(554.80 244.20) scale(0.910 1)" font-size="13.90" font-style="normal" font-weight="normal" fill="#0000ff" stroke="#0000ff" stroke-width="0.25">Q</text>
</svg>
</body></html>
